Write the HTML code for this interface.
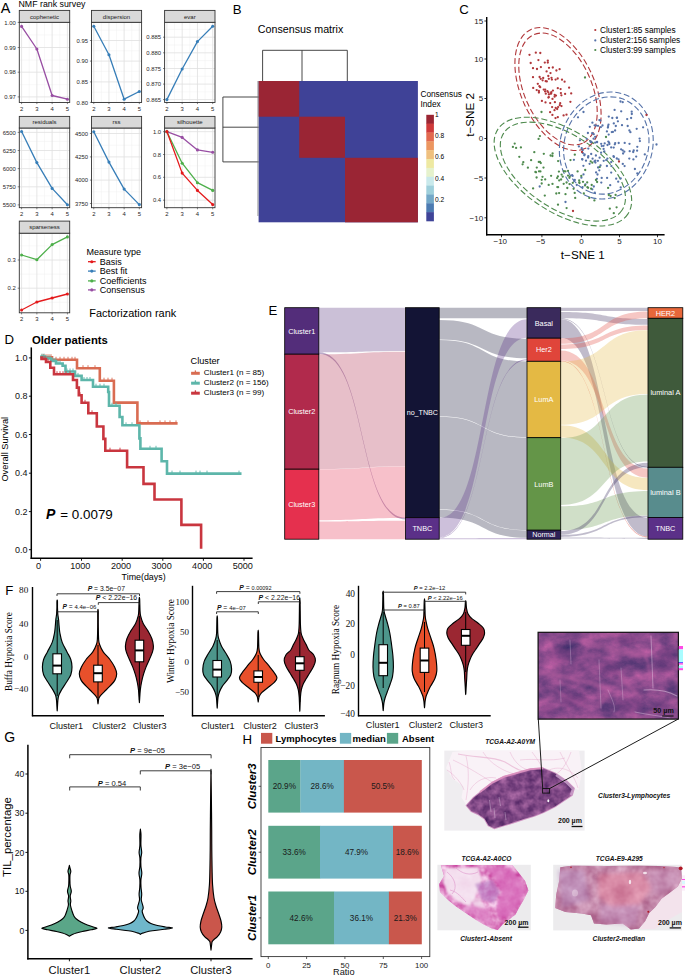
<!DOCTYPE html>
<html lang="en"><head><meta charset="utf-8"><title>Figure</title>
<style>
html,body{margin:0;padding:0;background:#fff;}
body{width:685px;height:976px;overflow:hidden;}
svg{display:block;font-family:"Liberation Sans",Arial,sans-serif;}
</style></head><body>
<svg width="685" height="976" viewBox="0 0 685 976">
<rect x="0" y="0" width="685" height="976" fill="#ffffff"/>
<g id="panelA">
<text x="0.80" y="12.78" font-size="14.4" fill="#000" >A</text>
<text x="18.50" y="7.07" font-size="8.8" fill="#000" >NMF rank survey</text>
<rect x="19.30" y="22.30" width="50.40" height="80.20" fill="#fff" stroke="none" stroke-width="1" />
<line x1="29.23" y1="22.30" x2="29.23" y2="102.50" stroke="#efefef" stroke-width="0.45" />
<line x1="44.50" y1="22.30" x2="44.50" y2="102.50" stroke="#efefef" stroke-width="0.45" />
<line x1="59.77" y1="22.30" x2="59.77" y2="102.50" stroke="#efefef" stroke-width="0.45" />
<line x1="19.30" y1="34.95" x2="69.70" y2="34.95" stroke="#efefef" stroke-width="0.45" />
<line x1="19.30" y1="60.05" x2="69.70" y2="60.05" stroke="#efefef" stroke-width="0.45" />
<line x1="19.30" y1="84.75" x2="69.70" y2="84.75" stroke="#efefef" stroke-width="0.45" />
<line x1="21.59" y1="22.30" x2="21.59" y2="102.50" stroke="#e0e0e0" stroke-width="0.8" />
<line x1="36.86" y1="22.30" x2="36.86" y2="102.50" stroke="#e0e0e0" stroke-width="0.8" />
<line x1="52.14" y1="22.30" x2="52.14" y2="102.50" stroke="#e0e0e0" stroke-width="0.8" />
<line x1="67.41" y1="22.30" x2="67.41" y2="102.50" stroke="#e0e0e0" stroke-width="0.8" />
<line x1="19.30" y1="22.40" x2="69.70" y2="22.40" stroke="#e0e0e0" stroke-width="0.8" />
<line x1="19.30" y1="47.50" x2="69.70" y2="47.50" stroke="#e0e0e0" stroke-width="0.8" />
<line x1="19.30" y1="72.20" x2="69.70" y2="72.20" stroke="#e0e0e0" stroke-width="0.8" />
<line x1="19.30" y1="96.90" x2="69.70" y2="96.90" stroke="#e0e0e0" stroke-width="0.8" />
<polyline points="21.59,26.40 36.86,49.00 52.14,95.50 67.41,99.20" fill="none" stroke="#984EA3" stroke-width="1.3" stroke-linejoin="round"/>
<circle cx="21.59" cy="26.40" r="1.55" fill="#984EA3"/>
<circle cx="36.86" cy="49.00" r="1.55" fill="#984EA3"/>
<circle cx="52.14" cy="95.50" r="1.55" fill="#984EA3"/>
<circle cx="67.41" cy="99.20" r="1.55" fill="#984EA3"/>
<rect x="19.30" y="22.30" width="50.40" height="80.20" fill="none" stroke="#333" stroke-width="0.9" />
<rect x="19.30" y="10.40" width="50.40" height="11.90" fill="#d9d9d9" stroke="#333" stroke-width="0.9" />
<text x="44.50" y="18.51" font-size="6.0" fill="#1a1a1a" text-anchor="middle" >cophenetic</text>
<line x1="17.70" y1="22.40" x2="19.30" y2="22.40" stroke="#333" stroke-width="0.6" />
<text x="15.80" y="24.52" font-size="5.9" fill="#262626" text-anchor="end" >1.00</text>
<line x1="17.70" y1="47.50" x2="19.30" y2="47.50" stroke="#333" stroke-width="0.6" />
<text x="15.80" y="49.62" font-size="5.9" fill="#262626" text-anchor="end" >0.99</text>
<line x1="17.70" y1="72.20" x2="19.30" y2="72.20" stroke="#333" stroke-width="0.6" />
<text x="15.80" y="74.32" font-size="5.9" fill="#262626" text-anchor="end" >0.98</text>
<line x1="17.70" y1="96.90" x2="19.30" y2="96.90" stroke="#333" stroke-width="0.6" />
<text x="15.80" y="99.02" font-size="5.9" fill="#262626" text-anchor="end" >0.97</text>
<line x1="21.59" y1="102.50" x2="21.59" y2="104.10" stroke="#333" stroke-width="0.6" />
<text x="21.59" y="110.82" font-size="5.9" fill="#262626" text-anchor="middle" >2</text>
<line x1="36.86" y1="102.50" x2="36.86" y2="104.10" stroke="#333" stroke-width="0.6" />
<text x="36.86" y="110.82" font-size="5.9" fill="#262626" text-anchor="middle" >3</text>
<line x1="52.14" y1="102.50" x2="52.14" y2="104.10" stroke="#333" stroke-width="0.6" />
<text x="52.14" y="110.82" font-size="5.9" fill="#262626" text-anchor="middle" >4</text>
<line x1="67.41" y1="102.50" x2="67.41" y2="104.10" stroke="#333" stroke-width="0.6" />
<text x="67.41" y="110.82" font-size="5.9" fill="#262626" text-anchor="middle" >5</text>
<rect x="91.50" y="22.30" width="50.10" height="80.20" fill="#fff" stroke="none" stroke-width="1" />
<line x1="101.37" y1="22.30" x2="101.37" y2="102.50" stroke="#efefef" stroke-width="0.45" />
<line x1="116.55" y1="22.30" x2="116.55" y2="102.50" stroke="#efefef" stroke-width="0.45" />
<line x1="131.73" y1="22.30" x2="131.73" y2="102.50" stroke="#efefef" stroke-width="0.45" />
<line x1="91.50" y1="50.80" x2="141.60" y2="50.80" stroke="#efefef" stroke-width="0.45" />
<line x1="91.50" y1="71.40" x2="141.60" y2="71.40" stroke="#efefef" stroke-width="0.45" />
<line x1="91.50" y1="92.20" x2="141.60" y2="92.20" stroke="#efefef" stroke-width="0.45" />
<line x1="91.50" y1="30.20" x2="141.60" y2="30.20" stroke="#efefef" stroke-width="0.45" />
<line x1="93.78" y1="22.30" x2="93.78" y2="102.50" stroke="#e0e0e0" stroke-width="0.8" />
<line x1="108.96" y1="22.30" x2="108.96" y2="102.50" stroke="#e0e0e0" stroke-width="0.8" />
<line x1="124.14" y1="22.30" x2="124.14" y2="102.50" stroke="#e0e0e0" stroke-width="0.8" />
<line x1="139.32" y1="22.30" x2="139.32" y2="102.50" stroke="#e0e0e0" stroke-width="0.8" />
<line x1="91.50" y1="40.50" x2="141.60" y2="40.50" stroke="#e0e0e0" stroke-width="0.8" />
<line x1="91.50" y1="61.10" x2="141.60" y2="61.10" stroke="#e0e0e0" stroke-width="0.8" />
<line x1="91.50" y1="81.90" x2="141.60" y2="81.90" stroke="#e0e0e0" stroke-width="0.8" />
<line x1="91.50" y1="102.40" x2="141.60" y2="102.40" stroke="#e0e0e0" stroke-width="0.8" />
<polyline points="93.78,26.30 108.96,54.70 124.14,99.20 139.32,91.50" fill="none" stroke="#377EB8" stroke-width="1.3" stroke-linejoin="round"/>
<circle cx="93.78" cy="26.30" r="1.55" fill="#377EB8"/>
<circle cx="108.96" cy="54.70" r="1.55" fill="#377EB8"/>
<circle cx="124.14" cy="99.20" r="1.55" fill="#377EB8"/>
<circle cx="139.32" cy="91.50" r="1.55" fill="#377EB8"/>
<rect x="91.50" y="22.30" width="50.10" height="80.20" fill="none" stroke="#333" stroke-width="0.9" />
<rect x="91.50" y="10.40" width="50.10" height="11.90" fill="#d9d9d9" stroke="#333" stroke-width="0.9" />
<text x="116.55" y="18.51" font-size="6.0" fill="#1a1a1a" text-anchor="middle" >dispersion</text>
<line x1="89.90" y1="40.50" x2="91.50" y2="40.50" stroke="#333" stroke-width="0.6" />
<text x="88.00" y="42.62" font-size="5.9" fill="#262626" text-anchor="end" >0.95</text>
<line x1="89.90" y1="61.10" x2="91.50" y2="61.10" stroke="#333" stroke-width="0.6" />
<text x="88.00" y="63.22" font-size="5.9" fill="#262626" text-anchor="end" >0.90</text>
<line x1="89.90" y1="81.90" x2="91.50" y2="81.90" stroke="#333" stroke-width="0.6" />
<text x="88.00" y="84.02" font-size="5.9" fill="#262626" text-anchor="end" >0.85</text>
<line x1="89.90" y1="102.40" x2="91.50" y2="102.40" stroke="#333" stroke-width="0.6" />
<text x="88.00" y="104.52" font-size="5.9" fill="#262626" text-anchor="end" >0.80</text>
<line x1="93.78" y1="102.50" x2="93.78" y2="104.10" stroke="#333" stroke-width="0.6" />
<text x="93.78" y="110.82" font-size="5.9" fill="#262626" text-anchor="middle" >2</text>
<line x1="108.96" y1="102.50" x2="108.96" y2="104.10" stroke="#333" stroke-width="0.6" />
<text x="108.96" y="110.82" font-size="5.9" fill="#262626" text-anchor="middle" >3</text>
<line x1="124.14" y1="102.50" x2="124.14" y2="104.10" stroke="#333" stroke-width="0.6" />
<text x="124.14" y="110.82" font-size="5.9" fill="#262626" text-anchor="middle" >4</text>
<line x1="139.32" y1="102.50" x2="139.32" y2="104.10" stroke="#333" stroke-width="0.6" />
<text x="139.32" y="110.82" font-size="5.9" fill="#262626" text-anchor="middle" >5</text>
<rect x="164.60" y="22.30" width="50.40" height="80.20" fill="#fff" stroke="none" stroke-width="1" />
<line x1="174.53" y1="22.30" x2="174.53" y2="102.50" stroke="#efefef" stroke-width="0.45" />
<line x1="189.80" y1="22.30" x2="189.80" y2="102.50" stroke="#efefef" stroke-width="0.45" />
<line x1="205.07" y1="22.30" x2="205.07" y2="102.50" stroke="#efefef" stroke-width="0.45" />
<line x1="164.60" y1="45.00" x2="215.00" y2="45.00" stroke="#efefef" stroke-width="0.45" />
<line x1="164.60" y1="60.60" x2="215.00" y2="60.60" stroke="#efefef" stroke-width="0.45" />
<line x1="164.60" y1="76.30" x2="215.00" y2="76.30" stroke="#efefef" stroke-width="0.45" />
<line x1="164.60" y1="91.90" x2="215.00" y2="91.90" stroke="#efefef" stroke-width="0.45" />
<line x1="164.60" y1="29.40" x2="215.00" y2="29.40" stroke="#efefef" stroke-width="0.45" />
<line x1="166.89" y1="22.30" x2="166.89" y2="102.50" stroke="#e0e0e0" stroke-width="0.8" />
<line x1="182.16" y1="22.30" x2="182.16" y2="102.50" stroke="#e0e0e0" stroke-width="0.8" />
<line x1="197.44" y1="22.30" x2="197.44" y2="102.50" stroke="#e0e0e0" stroke-width="0.8" />
<line x1="212.71" y1="22.30" x2="212.71" y2="102.50" stroke="#e0e0e0" stroke-width="0.8" />
<line x1="164.60" y1="37.20" x2="215.00" y2="37.20" stroke="#e0e0e0" stroke-width="0.8" />
<line x1="164.60" y1="52.80" x2="215.00" y2="52.80" stroke="#e0e0e0" stroke-width="0.8" />
<line x1="164.60" y1="68.50" x2="215.00" y2="68.50" stroke="#e0e0e0" stroke-width="0.8" />
<line x1="164.60" y1="84.10" x2="215.00" y2="84.10" stroke="#e0e0e0" stroke-width="0.8" />
<line x1="164.60" y1="99.60" x2="215.00" y2="99.60" stroke="#e0e0e0" stroke-width="0.8" />
<polyline points="166.89,99.60 182.16,69.00 197.44,41.60 212.71,26.30" fill="none" stroke="#377EB8" stroke-width="1.3" stroke-linejoin="round"/>
<circle cx="166.89" cy="99.60" r="1.55" fill="#377EB8"/>
<circle cx="182.16" cy="69.00" r="1.55" fill="#377EB8"/>
<circle cx="197.44" cy="41.60" r="1.55" fill="#377EB8"/>
<circle cx="212.71" cy="26.30" r="1.55" fill="#377EB8"/>
<rect x="164.60" y="22.30" width="50.40" height="80.20" fill="none" stroke="#333" stroke-width="0.9" />
<rect x="164.60" y="10.40" width="50.40" height="11.90" fill="#d9d9d9" stroke="#333" stroke-width="0.9" />
<text x="189.80" y="18.51" font-size="6.0" fill="#1a1a1a" text-anchor="middle" >evar</text>
<line x1="163.00" y1="37.20" x2="164.60" y2="37.20" stroke="#333" stroke-width="0.6" />
<text x="161.10" y="39.32" font-size="5.9" fill="#262626" text-anchor="end" >0.885</text>
<line x1="163.00" y1="52.80" x2="164.60" y2="52.80" stroke="#333" stroke-width="0.6" />
<text x="161.10" y="54.92" font-size="5.9" fill="#262626" text-anchor="end" >0.880</text>
<line x1="163.00" y1="68.50" x2="164.60" y2="68.50" stroke="#333" stroke-width="0.6" />
<text x="161.10" y="70.62" font-size="5.9" fill="#262626" text-anchor="end" >0.875</text>
<line x1="163.00" y1="84.10" x2="164.60" y2="84.10" stroke="#333" stroke-width="0.6" />
<text x="161.10" y="86.22" font-size="5.9" fill="#262626" text-anchor="end" >0.870</text>
<line x1="163.00" y1="99.60" x2="164.60" y2="99.60" stroke="#333" stroke-width="0.6" />
<text x="161.10" y="101.72" font-size="5.9" fill="#262626" text-anchor="end" >0.865</text>
<line x1="166.89" y1="102.50" x2="166.89" y2="104.10" stroke="#333" stroke-width="0.6" />
<text x="166.89" y="110.82" font-size="5.9" fill="#262626" text-anchor="middle" >2</text>
<line x1="182.16" y1="102.50" x2="182.16" y2="104.10" stroke="#333" stroke-width="0.6" />
<text x="182.16" y="110.82" font-size="5.9" fill="#262626" text-anchor="middle" >3</text>
<line x1="197.44" y1="102.50" x2="197.44" y2="104.10" stroke="#333" stroke-width="0.6" />
<text x="197.44" y="110.82" font-size="5.9" fill="#262626" text-anchor="middle" >4</text>
<line x1="212.71" y1="102.50" x2="212.71" y2="104.10" stroke="#333" stroke-width="0.6" />
<text x="212.71" y="110.82" font-size="5.9" fill="#262626" text-anchor="middle" >5</text>
<rect x="19.30" y="128.00" width="50.40" height="79.70" fill="#fff" stroke="none" stroke-width="1" />
<line x1="29.23" y1="128.00" x2="29.23" y2="207.70" stroke="#efefef" stroke-width="0.45" />
<line x1="44.50" y1="128.00" x2="44.50" y2="207.70" stroke="#efefef" stroke-width="0.45" />
<line x1="59.77" y1="128.00" x2="59.77" y2="207.70" stroke="#efefef" stroke-width="0.45" />
<line x1="19.30" y1="141.45" x2="69.70" y2="141.45" stroke="#efefef" stroke-width="0.45" />
<line x1="19.30" y1="159.55" x2="69.70" y2="159.55" stroke="#efefef" stroke-width="0.45" />
<line x1="19.30" y1="177.65" x2="69.70" y2="177.65" stroke="#efefef" stroke-width="0.45" />
<line x1="19.30" y1="195.85" x2="69.70" y2="195.85" stroke="#efefef" stroke-width="0.45" />
<line x1="21.59" y1="128.00" x2="21.59" y2="207.70" stroke="#e0e0e0" stroke-width="0.8" />
<line x1="36.86" y1="128.00" x2="36.86" y2="207.70" stroke="#e0e0e0" stroke-width="0.8" />
<line x1="52.14" y1="128.00" x2="52.14" y2="207.70" stroke="#e0e0e0" stroke-width="0.8" />
<line x1="67.41" y1="128.00" x2="67.41" y2="207.70" stroke="#e0e0e0" stroke-width="0.8" />
<line x1="19.30" y1="132.40" x2="69.70" y2="132.40" stroke="#e0e0e0" stroke-width="0.8" />
<line x1="19.30" y1="150.50" x2="69.70" y2="150.50" stroke="#e0e0e0" stroke-width="0.8" />
<line x1="19.30" y1="168.60" x2="69.70" y2="168.60" stroke="#e0e0e0" stroke-width="0.8" />
<line x1="19.30" y1="186.80" x2="69.70" y2="186.80" stroke="#e0e0e0" stroke-width="0.8" />
<line x1="19.30" y1="204.90" x2="69.70" y2="204.90" stroke="#e0e0e0" stroke-width="0.8" />
<polyline points="21.59,131.50 36.86,162.60 52.14,188.40 67.41,204.70" fill="none" stroke="#377EB8" stroke-width="1.3" stroke-linejoin="round"/>
<circle cx="21.59" cy="131.50" r="1.55" fill="#377EB8"/>
<circle cx="36.86" cy="162.60" r="1.55" fill="#377EB8"/>
<circle cx="52.14" cy="188.40" r="1.55" fill="#377EB8"/>
<circle cx="67.41" cy="204.70" r="1.55" fill="#377EB8"/>
<rect x="19.30" y="128.00" width="50.40" height="79.70" fill="none" stroke="#333" stroke-width="0.9" />
<rect x="19.30" y="116.40" width="50.40" height="11.60" fill="#d9d9d9" stroke="#333" stroke-width="0.9" />
<text x="44.50" y="124.36" font-size="6.0" fill="#1a1a1a" text-anchor="middle" >residuals</text>
<line x1="17.70" y1="132.40" x2="19.30" y2="132.40" stroke="#333" stroke-width="0.6" />
<text x="15.80" y="134.52" font-size="5.9" fill="#262626" text-anchor="end" >6500</text>
<line x1="17.70" y1="150.50" x2="19.30" y2="150.50" stroke="#333" stroke-width="0.6" />
<text x="15.80" y="152.62" font-size="5.9" fill="#262626" text-anchor="end" >6250</text>
<line x1="17.70" y1="168.60" x2="19.30" y2="168.60" stroke="#333" stroke-width="0.6" />
<text x="15.80" y="170.72" font-size="5.9" fill="#262626" text-anchor="end" >6000</text>
<line x1="17.70" y1="186.80" x2="19.30" y2="186.80" stroke="#333" stroke-width="0.6" />
<text x="15.80" y="188.92" font-size="5.9" fill="#262626" text-anchor="end" >5750</text>
<line x1="17.70" y1="204.90" x2="19.30" y2="204.90" stroke="#333" stroke-width="0.6" />
<text x="15.80" y="207.02" font-size="5.9" fill="#262626" text-anchor="end" >5500</text>
<line x1="21.59" y1="207.70" x2="21.59" y2="209.30" stroke="#333" stroke-width="0.6" />
<text x="21.59" y="216.02" font-size="5.9" fill="#262626" text-anchor="middle" >2</text>
<line x1="36.86" y1="207.70" x2="36.86" y2="209.30" stroke="#333" stroke-width="0.6" />
<text x="36.86" y="216.02" font-size="5.9" fill="#262626" text-anchor="middle" >3</text>
<line x1="52.14" y1="207.70" x2="52.14" y2="209.30" stroke="#333" stroke-width="0.6" />
<text x="52.14" y="216.02" font-size="5.9" fill="#262626" text-anchor="middle" >4</text>
<line x1="67.41" y1="207.70" x2="67.41" y2="209.30" stroke="#333" stroke-width="0.6" />
<text x="67.41" y="216.02" font-size="5.9" fill="#262626" text-anchor="middle" >5</text>
<rect x="91.50" y="128.00" width="50.10" height="79.70" fill="#fff" stroke="none" stroke-width="1" />
<line x1="101.37" y1="128.00" x2="101.37" y2="207.70" stroke="#efefef" stroke-width="0.45" />
<line x1="116.55" y1="128.00" x2="116.55" y2="207.70" stroke="#efefef" stroke-width="0.45" />
<line x1="131.73" y1="128.00" x2="131.73" y2="207.70" stroke="#efefef" stroke-width="0.45" />
<line x1="91.50" y1="145.20" x2="141.60" y2="145.20" stroke="#efefef" stroke-width="0.45" />
<line x1="91.50" y1="168.60" x2="141.60" y2="168.60" stroke="#efefef" stroke-width="0.45" />
<line x1="91.50" y1="191.80" x2="141.60" y2="191.80" stroke="#efefef" stroke-width="0.45" />
<line x1="93.78" y1="128.00" x2="93.78" y2="207.70" stroke="#e0e0e0" stroke-width="0.8" />
<line x1="108.96" y1="128.00" x2="108.96" y2="207.70" stroke="#e0e0e0" stroke-width="0.8" />
<line x1="124.14" y1="128.00" x2="124.14" y2="207.70" stroke="#e0e0e0" stroke-width="0.8" />
<line x1="139.32" y1="128.00" x2="139.32" y2="207.70" stroke="#e0e0e0" stroke-width="0.8" />
<line x1="91.50" y1="133.50" x2="141.60" y2="133.50" stroke="#e0e0e0" stroke-width="0.8" />
<line x1="91.50" y1="156.90" x2="141.60" y2="156.90" stroke="#e0e0e0" stroke-width="0.8" />
<line x1="91.50" y1="180.10" x2="141.60" y2="180.10" stroke="#e0e0e0" stroke-width="0.8" />
<line x1="91.50" y1="203.50" x2="141.60" y2="203.50" stroke="#e0e0e0" stroke-width="0.8" />
<polyline points="93.78,131.70 108.96,162.10 124.14,189.10 139.32,204.60" fill="none" stroke="#377EB8" stroke-width="1.3" stroke-linejoin="round"/>
<circle cx="93.78" cy="131.70" r="1.55" fill="#377EB8"/>
<circle cx="108.96" cy="162.10" r="1.55" fill="#377EB8"/>
<circle cx="124.14" cy="189.10" r="1.55" fill="#377EB8"/>
<circle cx="139.32" cy="204.60" r="1.55" fill="#377EB8"/>
<rect x="91.50" y="128.00" width="50.10" height="79.70" fill="none" stroke="#333" stroke-width="0.9" />
<rect x="91.50" y="116.40" width="50.10" height="11.60" fill="#d9d9d9" stroke="#333" stroke-width="0.9" />
<text x="116.55" y="124.36" font-size="6.0" fill="#1a1a1a" text-anchor="middle" >rss</text>
<line x1="89.90" y1="133.50" x2="91.50" y2="133.50" stroke="#333" stroke-width="0.6" />
<text x="88.00" y="135.62" font-size="5.9" fill="#262626" text-anchor="end" >4500</text>
<line x1="89.90" y1="156.90" x2="91.50" y2="156.90" stroke="#333" stroke-width="0.6" />
<text x="88.00" y="159.02" font-size="5.9" fill="#262626" text-anchor="end" >4250</text>
<line x1="89.90" y1="180.10" x2="91.50" y2="180.10" stroke="#333" stroke-width="0.6" />
<text x="88.00" y="182.22" font-size="5.9" fill="#262626" text-anchor="end" >4000</text>
<line x1="89.90" y1="203.50" x2="91.50" y2="203.50" stroke="#333" stroke-width="0.6" />
<text x="88.00" y="205.62" font-size="5.9" fill="#262626" text-anchor="end" >3750</text>
<line x1="93.78" y1="207.70" x2="93.78" y2="209.30" stroke="#333" stroke-width="0.6" />
<text x="93.78" y="216.02" font-size="5.9" fill="#262626" text-anchor="middle" >2</text>
<line x1="108.96" y1="207.70" x2="108.96" y2="209.30" stroke="#333" stroke-width="0.6" />
<text x="108.96" y="216.02" font-size="5.9" fill="#262626" text-anchor="middle" >3</text>
<line x1="124.14" y1="207.70" x2="124.14" y2="209.30" stroke="#333" stroke-width="0.6" />
<text x="124.14" y="216.02" font-size="5.9" fill="#262626" text-anchor="middle" >4</text>
<line x1="139.32" y1="207.70" x2="139.32" y2="209.30" stroke="#333" stroke-width="0.6" />
<text x="139.32" y="216.02" font-size="5.9" fill="#262626" text-anchor="middle" >5</text>
<rect x="164.60" y="128.00" width="50.40" height="79.70" fill="#fff" stroke="none" stroke-width="1" />
<line x1="174.53" y1="128.00" x2="174.53" y2="207.70" stroke="#efefef" stroke-width="0.45" />
<line x1="189.80" y1="128.00" x2="189.80" y2="207.70" stroke="#efefef" stroke-width="0.45" />
<line x1="205.07" y1="128.00" x2="205.07" y2="207.70" stroke="#efefef" stroke-width="0.45" />
<line x1="164.60" y1="143.10" x2="215.00" y2="143.10" stroke="#efefef" stroke-width="0.45" />
<line x1="164.60" y1="165.90" x2="215.00" y2="165.90" stroke="#efefef" stroke-width="0.45" />
<line x1="164.60" y1="188.70" x2="215.00" y2="188.70" stroke="#efefef" stroke-width="0.45" />
<line x1="166.89" y1="128.00" x2="166.89" y2="207.70" stroke="#e0e0e0" stroke-width="0.8" />
<line x1="182.16" y1="128.00" x2="182.16" y2="207.70" stroke="#e0e0e0" stroke-width="0.8" />
<line x1="197.44" y1="128.00" x2="197.44" y2="207.70" stroke="#e0e0e0" stroke-width="0.8" />
<line x1="212.71" y1="128.00" x2="212.71" y2="207.70" stroke="#e0e0e0" stroke-width="0.8" />
<line x1="164.60" y1="131.70" x2="215.00" y2="131.70" stroke="#e0e0e0" stroke-width="0.8" />
<line x1="164.60" y1="154.50" x2="215.00" y2="154.50" stroke="#e0e0e0" stroke-width="0.8" />
<line x1="164.60" y1="177.30" x2="215.00" y2="177.30" stroke="#e0e0e0" stroke-width="0.8" />
<line x1="164.60" y1="200.20" x2="215.00" y2="200.20" stroke="#e0e0e0" stroke-width="0.8" />
<polyline points="166.89,131.70 182.16,137.40 197.44,149.90 212.71,152.30" fill="none" stroke="#984EA3" stroke-width="1.3" stroke-linejoin="round"/>
<circle cx="166.89" cy="131.70" r="1.55" fill="#984EA3"/>
<circle cx="182.16" cy="137.40" r="1.55" fill="#984EA3"/>
<circle cx="197.44" cy="149.90" r="1.55" fill="#984EA3"/>
<circle cx="212.71" cy="152.30" r="1.55" fill="#984EA3"/>
<polyline points="166.89,131.70 182.16,163.20 197.44,182.70 212.71,190.40" fill="none" stroke="#4DAF4A" stroke-width="1.3" stroke-linejoin="round"/>
<circle cx="166.89" cy="131.70" r="1.55" fill="#4DAF4A"/>
<circle cx="182.16" cy="163.20" r="1.55" fill="#4DAF4A"/>
<circle cx="197.44" cy="182.70" r="1.55" fill="#4DAF4A"/>
<circle cx="212.71" cy="190.40" r="1.55" fill="#4DAF4A"/>
<polyline points="166.89,131.50 182.16,173.10 197.44,190.40 212.71,204.60" fill="none" stroke="#E41A1C" stroke-width="1.3" stroke-linejoin="round"/>
<circle cx="166.89" cy="131.50" r="1.55" fill="#E41A1C"/>
<circle cx="182.16" cy="173.10" r="1.55" fill="#E41A1C"/>
<circle cx="197.44" cy="190.40" r="1.55" fill="#E41A1C"/>
<circle cx="212.71" cy="204.60" r="1.55" fill="#E41A1C"/>
<rect x="164.60" y="128.00" width="50.40" height="79.70" fill="none" stroke="#333" stroke-width="0.9" />
<rect x="164.60" y="116.40" width="50.40" height="11.60" fill="#d9d9d9" stroke="#333" stroke-width="0.9" />
<text x="189.80" y="124.36" font-size="6.0" fill="#1a1a1a" text-anchor="middle" >silhouette</text>
<line x1="163.00" y1="131.70" x2="164.60" y2="131.70" stroke="#333" stroke-width="0.6" />
<text x="161.10" y="133.82" font-size="5.9" fill="#262626" text-anchor="end" >1.0</text>
<line x1="163.00" y1="154.50" x2="164.60" y2="154.50" stroke="#333" stroke-width="0.6" />
<text x="161.10" y="156.62" font-size="5.9" fill="#262626" text-anchor="end" >0.8</text>
<line x1="163.00" y1="177.30" x2="164.60" y2="177.30" stroke="#333" stroke-width="0.6" />
<text x="161.10" y="179.42" font-size="5.9" fill="#262626" text-anchor="end" >0.6</text>
<line x1="163.00" y1="200.20" x2="164.60" y2="200.20" stroke="#333" stroke-width="0.6" />
<text x="161.10" y="202.32" font-size="5.9" fill="#262626" text-anchor="end" >0.4</text>
<line x1="166.89" y1="207.70" x2="166.89" y2="209.30" stroke="#333" stroke-width="0.6" />
<text x="166.89" y="216.02" font-size="5.9" fill="#262626" text-anchor="middle" >2</text>
<line x1="182.16" y1="207.70" x2="182.16" y2="209.30" stroke="#333" stroke-width="0.6" />
<text x="182.16" y="216.02" font-size="5.9" fill="#262626" text-anchor="middle" >3</text>
<line x1="197.44" y1="207.70" x2="197.44" y2="209.30" stroke="#333" stroke-width="0.6" />
<text x="197.44" y="216.02" font-size="5.9" fill="#262626" text-anchor="middle" >4</text>
<line x1="212.71" y1="207.70" x2="212.71" y2="209.30" stroke="#333" stroke-width="0.6" />
<text x="212.71" y="216.02" font-size="5.9" fill="#262626" text-anchor="middle" >5</text>
<rect x="19.30" y="233.20" width="50.40" height="79.60" fill="#fff" stroke="none" stroke-width="1" />
<line x1="29.23" y1="233.20" x2="29.23" y2="312.80" stroke="#efefef" stroke-width="0.45" />
<line x1="44.50" y1="233.20" x2="44.50" y2="312.80" stroke="#efefef" stroke-width="0.45" />
<line x1="59.77" y1="233.20" x2="59.77" y2="312.80" stroke="#efefef" stroke-width="0.45" />
<line x1="19.30" y1="274.10" x2="69.70" y2="274.10" stroke="#efefef" stroke-width="0.45" />
<line x1="19.30" y1="302.30" x2="69.70" y2="302.30" stroke="#efefef" stroke-width="0.45" />
<line x1="19.30" y1="245.90" x2="69.70" y2="245.90" stroke="#efefef" stroke-width="0.45" />
<line x1="21.59" y1="233.20" x2="21.59" y2="312.80" stroke="#e0e0e0" stroke-width="0.8" />
<line x1="36.86" y1="233.20" x2="36.86" y2="312.80" stroke="#e0e0e0" stroke-width="0.8" />
<line x1="52.14" y1="233.20" x2="52.14" y2="312.80" stroke="#e0e0e0" stroke-width="0.8" />
<line x1="67.41" y1="233.20" x2="67.41" y2="312.80" stroke="#e0e0e0" stroke-width="0.8" />
<line x1="19.30" y1="260.00" x2="69.70" y2="260.00" stroke="#e0e0e0" stroke-width="0.8" />
<line x1="19.30" y1="288.20" x2="69.70" y2="288.20" stroke="#e0e0e0" stroke-width="0.8" />
<polyline points="21.59,255.00 36.86,259.70 52.14,244.60 67.41,236.90" fill="none" stroke="#4DAF4A" stroke-width="1.3" stroke-linejoin="round"/>
<circle cx="21.59" cy="255.00" r="1.55" fill="#4DAF4A"/>
<circle cx="36.86" cy="259.70" r="1.55" fill="#4DAF4A"/>
<circle cx="52.14" cy="244.60" r="1.55" fill="#4DAF4A"/>
<circle cx="67.41" cy="236.90" r="1.55" fill="#4DAF4A"/>
<polyline points="21.59,310.00 36.86,302.00 52.14,298.00 67.41,294.00" fill="none" stroke="#E41A1C" stroke-width="1.3" stroke-linejoin="round"/>
<circle cx="21.59" cy="310.00" r="1.55" fill="#E41A1C"/>
<circle cx="36.86" cy="302.00" r="1.55" fill="#E41A1C"/>
<circle cx="52.14" cy="298.00" r="1.55" fill="#E41A1C"/>
<circle cx="67.41" cy="294.00" r="1.55" fill="#E41A1C"/>
<rect x="19.30" y="233.20" width="50.40" height="79.60" fill="none" stroke="#333" stroke-width="0.9" />
<rect x="19.30" y="221.10" width="50.40" height="12.10" fill="#d9d9d9" stroke="#333" stroke-width="0.9" />
<text x="44.50" y="229.31" font-size="6.0" fill="#1a1a1a" text-anchor="middle" >sparseness</text>
<line x1="17.70" y1="260.00" x2="19.30" y2="260.00" stroke="#333" stroke-width="0.6" />
<text x="15.80" y="262.12" font-size="5.9" fill="#262626" text-anchor="end" >0.3</text>
<line x1="17.70" y1="288.20" x2="19.30" y2="288.20" stroke="#333" stroke-width="0.6" />
<text x="15.80" y="290.32" font-size="5.9" fill="#262626" text-anchor="end" >0.2</text>
<line x1="21.59" y1="312.80" x2="21.59" y2="314.40" stroke="#333" stroke-width="0.6" />
<text x="21.59" y="321.12" font-size="5.9" fill="#262626" text-anchor="middle" >2</text>
<line x1="36.86" y1="312.80" x2="36.86" y2="314.40" stroke="#333" stroke-width="0.6" />
<text x="36.86" y="321.12" font-size="5.9" fill="#262626" text-anchor="middle" >3</text>
<line x1="52.14" y1="312.80" x2="52.14" y2="314.40" stroke="#333" stroke-width="0.6" />
<text x="52.14" y="321.12" font-size="5.9" fill="#262626" text-anchor="middle" >4</text>
<line x1="67.41" y1="312.80" x2="67.41" y2="314.40" stroke="#333" stroke-width="0.6" />
<text x="67.41" y="321.12" font-size="5.9" fill="#262626" text-anchor="middle" >5</text>
<text x="86.60" y="254.54" font-size="9.0" fill="#000" >Measure type</text>
<line x1="88.00" y1="261.70" x2="95.70" y2="261.70" stroke="#E41A1C" stroke-width="1.3" />
<circle cx="91.8" cy="261.7" r="1.55" fill="#E41A1C"/>
<text x="99.70" y="264.94" font-size="9.0" fill="#000" >Basis</text>
<line x1="88.00" y1="271.10" x2="95.70" y2="271.10" stroke="#377EB8" stroke-width="1.3" />
<circle cx="91.8" cy="271.1" r="1.55" fill="#377EB8"/>
<text x="99.70" y="274.34" font-size="9.0" fill="#000" >Best fit</text>
<line x1="88.00" y1="280.90" x2="95.70" y2="280.90" stroke="#4DAF4A" stroke-width="1.3" />
<circle cx="91.8" cy="280.9" r="1.55" fill="#4DAF4A"/>
<text x="99.70" y="284.14" font-size="9.0" fill="#000" >Coefficients</text>
<line x1="88.00" y1="289.90" x2="95.70" y2="289.90" stroke="#984EA3" stroke-width="1.3" />
<circle cx="91.8" cy="289.9" r="1.55" fill="#984EA3"/>
<text x="99.70" y="293.14" font-size="9.0" fill="#000" >Consensus</text>
<text x="89.30" y="316.54" font-size="10.95" fill="#000" >Factorization rank</text>
</g>
<g id="panelB">
<text x="232.80" y="14.15" font-size="13.2" fill="#000" >B</text>
<text x="257.80" y="32.75" font-size="10.7" fill="#000" >Consensus matrix</text>
<rect x="258.60" y="81.00" width="159.30" height="141.30" fill="#3f4297" stroke="none" stroke-width="1" />
<rect x="258.60" y="81.00" width="40.60" height="35.70" fill="#9a2534" stroke="none" stroke-width="1" />
<rect x="299.20" y="116.70" width="45.80" height="41.10" fill="#9a2534" stroke="none" stroke-width="1" />
<rect x="345.00" y="157.80" width="72.90" height="64.50" fill="#9a2534" stroke="none" stroke-width="1" />
<polyline points="262.60,81.00 262.60,50.30 347.30,50.30 347.30,81.00" fill="none" stroke="#333" stroke-width="0.9" />
<line x1="302.00" y1="50.30" x2="302.00" y2="81.00" stroke="#333" stroke-width="0.9" />
<polyline points="258.60,97.00 222.90,97.00 222.90,161.90 258.60,161.90" fill="none" stroke="#333" stroke-width="0.9" />
<line x1="222.90" y1="127.20" x2="258.60" y2="127.20" stroke="#333" stroke-width="0.9" />
<line x1="257.90" y1="81.00" x2="257.90" y2="216.00" stroke="#777" stroke-width="0.7" />
<text x="420.40" y="97.29" font-size="8.3" fill="#000" >Consensus</text>
<text x="420.40" y="106.59" font-size="8.3" fill="#000" >Index</text>
<rect x="426.30" y="114.80" width="7.60" height="9.15" fill="#9b2633" stroke="none" stroke-width="1" />
<rect x="426.30" y="123.65" width="7.60" height="9.15" fill="#cf3a3a" stroke="none" stroke-width="1" />
<rect x="426.30" y="132.50" width="7.60" height="9.15" fill="#e2694f" stroke="none" stroke-width="1" />
<rect x="426.30" y="141.35" width="7.60" height="9.15" fill="#ec9660" stroke="none" stroke-width="1" />
<rect x="426.30" y="150.20" width="7.60" height="9.15" fill="#efc07e" stroke="none" stroke-width="1" />
<rect x="426.30" y="159.05" width="7.60" height="9.15" fill="#eee9a2" stroke="none" stroke-width="1" />
<rect x="426.30" y="167.90" width="7.60" height="9.15" fill="#e6f2cd" stroke="none" stroke-width="1" />
<rect x="426.30" y="176.75" width="7.60" height="9.15" fill="#c9e9eb" stroke="none" stroke-width="1" />
<rect x="426.30" y="185.60" width="7.60" height="9.15" fill="#9ecfdb" stroke="none" stroke-width="1" />
<rect x="426.30" y="194.45" width="7.60" height="9.15" fill="#73a8c8" stroke="none" stroke-width="1" />
<rect x="426.30" y="203.30" width="7.60" height="9.15" fill="#4c7bb2" stroke="none" stroke-width="1" />
<rect x="426.30" y="212.15" width="7.60" height="9.15" fill="#3f4498" stroke="none" stroke-width="1" />
<text x="435.00" y="117.28" font-size="6.6" fill="#000" >1</text>
<text x="435.00" y="138.28" font-size="6.6" fill="#000" >0.8</text>
<text x="435.00" y="159.28" font-size="6.6" fill="#000" >0.6</text>
<text x="435.00" y="180.58" font-size="6.6" fill="#000" >0.4</text>
<text x="435.00" y="201.88" font-size="6.6" fill="#000" >0.2</text>
</g>
<g id="panelC">
<text x="459.20" y="14.15" font-size="13.2" fill="#000" >C</text>
<line x1="486.70" y1="17.00" x2="486.70" y2="235.40" stroke="#000" stroke-width="1.45" />
<line x1="486.00" y1="234.80" x2="664.60" y2="234.80" stroke="#000" stroke-width="1.45" />
<line x1="484.40" y1="21.00" x2="486.70" y2="21.00" stroke="#000" stroke-width="0.8" />
<text x="483.20" y="23.88" font-size="8.0" fill="#222" text-anchor="end" >15</text>
<line x1="484.40" y1="59.00" x2="486.70" y2="59.00" stroke="#000" stroke-width="0.8" />
<text x="483.20" y="61.88" font-size="8.0" fill="#222" text-anchor="end" >10</text>
<line x1="484.40" y1="98.50" x2="486.70" y2="98.50" stroke="#000" stroke-width="0.8" />
<text x="483.20" y="101.38" font-size="8.0" fill="#222" text-anchor="end" >5</text>
<line x1="484.40" y1="138.50" x2="486.70" y2="138.50" stroke="#000" stroke-width="0.8" />
<text x="483.20" y="141.38" font-size="8.0" fill="#222" text-anchor="end" >0</text>
<line x1="484.40" y1="178.00" x2="486.70" y2="178.00" stroke="#000" stroke-width="0.8" />
<text x="483.20" y="180.88" font-size="8.0" fill="#222" text-anchor="end" >−5</text>
<line x1="484.40" y1="217.80" x2="486.70" y2="217.80" stroke="#000" stroke-width="0.8" />
<text x="483.20" y="220.68" font-size="8.0" fill="#222" text-anchor="end" >−10</text>
<line x1="501.50" y1="234.80" x2="501.50" y2="237.20" stroke="#000" stroke-width="0.8" />
<text x="500.30" y="244.08" font-size="8.0" fill="#222" text-anchor="middle" >−10</text>
<line x1="541.90" y1="234.80" x2="541.90" y2="237.20" stroke="#000" stroke-width="0.8" />
<text x="540.70" y="244.08" font-size="8.0" fill="#222" text-anchor="middle" >−5</text>
<line x1="581.40" y1="234.80" x2="581.40" y2="237.20" stroke="#000" stroke-width="0.8" />
<text x="581.40" y="244.08" font-size="8.0" fill="#222" text-anchor="middle" >0</text>
<line x1="619.50" y1="234.80" x2="619.50" y2="237.20" stroke="#000" stroke-width="0.8" />
<text x="619.50" y="244.08" font-size="8.0" fill="#222" text-anchor="middle" >5</text>
<line x1="657.50" y1="234.80" x2="657.50" y2="237.20" stroke="#000" stroke-width="0.8" />
<text x="657.50" y="244.08" font-size="8.0" fill="#222" text-anchor="middle" >10</text>
<text x="582.80" y="259.41" font-size="11.7" fill="#000" text-anchor="middle" >t−SNE 1</text>
<text x="0" y="4.21" font-size="11.7" fill="#000" transform="translate(469.60,114.90) rotate(-90)" text-anchor="middle" >t−SNE 2</text>
<ellipse cx="0" cy="0" rx="65.40" ry="36.90" transform="translate(558.0,89.0) rotate(65.65)" fill="none" stroke="#b1373a" stroke-width="1.1" stroke-dasharray="6 2.8"/>
<ellipse cx="0" cy="0" rx="59.51" ry="33.58" transform="translate(558.0,89.0) rotate(65.65)" fill="none" stroke="#b1373a" stroke-width="1.1" stroke-dasharray="6 2.8"/>
<ellipse cx="0" cy="0" rx="54.20" ry="46.10" transform="translate(606.3,145.5) rotate(108)" fill="none" stroke="#5673a9" stroke-width="1.1" stroke-dasharray="6 2.8"/>
<ellipse cx="0" cy="0" rx="49.32" ry="41.95" transform="translate(606.3,145.5) rotate(108)" fill="none" stroke="#5673a9" stroke-width="1.1" stroke-dasharray="6 2.8"/>
<ellipse cx="0" cy="0" rx="77.60" ry="40.80" transform="translate(562.9,171.6) rotate(33)" fill="none" stroke="#4e8a4d" stroke-width="1.1" stroke-dasharray="6 2.8"/>
<ellipse cx="0" cy="0" rx="70.62" ry="37.13" transform="translate(562.9,171.6) rotate(33)" fill="none" stroke="#4e8a4d" stroke-width="1.1" stroke-dasharray="6 2.8"/>
<g fill="#b1373a"><circle cx="542.6" cy="80.3" r="1.15"/><circle cx="551.5" cy="77.8" r="1.15"/><circle cx="544.8" cy="62.6" r="1.15"/><circle cx="554.5" cy="110.2" r="1.15"/><circle cx="555.7" cy="107.9" r="1.15"/><circle cx="551.2" cy="93.4" r="1.15"/><circle cx="548.8" cy="97.1" r="1.15"/><circle cx="547.8" cy="62.5" r="1.15"/><circle cx="552.9" cy="90.6" r="1.15"/><circle cx="560.9" cy="93.1" r="1.15"/><circle cx="548.3" cy="92.3" r="1.15"/><circle cx="541.9" cy="100.9" r="1.15"/><circle cx="552.8" cy="67.5" r="1.15"/><circle cx="548.3" cy="76.0" r="1.15"/><circle cx="552.5" cy="98.9" r="1.15"/><circle cx="556.4" cy="70.5" r="1.15"/><circle cx="533.0" cy="77.2" r="1.15"/><circle cx="540.9" cy="67.1" r="1.15"/><circle cx="569.1" cy="87.7" r="1.15"/><circle cx="536.7" cy="90.1" r="1.15"/><circle cx="557.7" cy="78.5" r="1.15"/><circle cx="554.7" cy="94.8" r="1.15"/><circle cx="529.5" cy="54.8" r="1.15"/><circle cx="545.5" cy="102.4" r="1.15"/><circle cx="557.8" cy="117.2" r="1.15"/><circle cx="564.6" cy="81.7" r="1.15"/><circle cx="561.4" cy="95.3" r="1.15"/><circle cx="559.6" cy="69.2" r="1.15"/><circle cx="547.8" cy="60.6" r="1.15"/><circle cx="535.8" cy="52.7" r="1.15"/><circle cx="555.5" cy="118.1" r="1.15"/><circle cx="560.6" cy="89.1" r="1.15"/><circle cx="530.7" cy="63.0" r="1.15"/><circle cx="557.2" cy="109.0" r="1.15"/><circle cx="547.4" cy="91.1" r="1.15"/><circle cx="548.4" cy="97.6" r="1.15"/><circle cx="552.1" cy="107.1" r="1.15"/><circle cx="537.8" cy="83.8" r="1.15"/><circle cx="556.0" cy="95.6" r="1.15"/><circle cx="545.8" cy="93.7" r="1.15"/><circle cx="538.9" cy="91.0" r="1.15"/><circle cx="549.0" cy="67.8" r="1.15"/><circle cx="558.1" cy="107.1" r="1.15"/><circle cx="533.0" cy="68.2" r="1.15"/><circle cx="566.5" cy="114.7" r="1.15"/><circle cx="540.3" cy="53.0" r="1.15"/><circle cx="551.9" cy="79.6" r="1.15"/><circle cx="537.0" cy="69.0" r="1.15"/><circle cx="550.1" cy="112.2" r="1.15"/><circle cx="551.3" cy="92.2" r="1.15"/><circle cx="545.2" cy="89.6" r="1.15"/><circle cx="545.7" cy="81.2" r="1.15"/><circle cx="554.6" cy="96.7" r="1.15"/><circle cx="550.2" cy="103.1" r="1.15"/><circle cx="550.5" cy="73.1" r="1.15"/><circle cx="540.2" cy="87.2" r="1.15"/><circle cx="543.2" cy="78.0" r="1.15"/><circle cx="538.4" cy="60.1" r="1.15"/><circle cx="550.7" cy="93.7" r="1.15"/><circle cx="539.6" cy="77.0" r="1.15"/><circle cx="557.8" cy="88.2" r="1.15"/><circle cx="546.6" cy="71.4" r="1.15"/><circle cx="548.8" cy="78.8" r="1.15"/><circle cx="570.4" cy="101.8" r="1.15"/><circle cx="539.4" cy="86.2" r="1.15"/><circle cx="540.7" cy="78.8" r="1.15"/><circle cx="571.2" cy="93.4" r="1.15"/><circle cx="538.9" cy="92.5" r="1.15"/><circle cx="546.8" cy="81.4" r="1.15"/><circle cx="554.9" cy="102.2" r="1.15"/><circle cx="533.2" cy="87.9" r="1.15"/><circle cx="561.5" cy="106.1" r="1.15"/><circle cx="560.2" cy="103.2" r="1.15"/><circle cx="543.7" cy="89.6" r="1.15"/><circle cx="545.1" cy="91.4" r="1.15"/><circle cx="565.1" cy="93.9" r="1.15"/><circle cx="552.4" cy="114.9" r="1.15"/><circle cx="562.0" cy="79.7" r="1.15"/><circle cx="559.8" cy="105.2" r="1.15"/><circle cx="555.6" cy="79.6" r="1.15"/><circle cx="548.9" cy="94.4" r="1.15"/><circle cx="563.6" cy="115.4" r="1.15"/></g>
<g fill="#5673a9"><circle cx="592.4" cy="122.7" r="1.15"/><circle cx="603.6" cy="148.9" r="1.15"/><circle cx="601.3" cy="182.6" r="1.15"/><circle cx="616.8" cy="158.5" r="1.15"/><circle cx="590.4" cy="141.4" r="1.15"/><circle cx="579.9" cy="140.3" r="1.15"/><circle cx="586.7" cy="138.8" r="1.15"/><circle cx="594.6" cy="125.3" r="1.15"/><circle cx="616.8" cy="117.8" r="1.15"/><circle cx="609.1" cy="142.6" r="1.15"/><circle cx="606.9" cy="131.4" r="1.15"/><circle cx="592.3" cy="189.3" r="1.15"/><circle cx="582.9" cy="153.1" r="1.15"/><circle cx="633.7" cy="150.5" r="1.15"/><circle cx="589.8" cy="126.8" r="1.15"/><circle cx="631.7" cy="111.7" r="1.15"/><circle cx="583.4" cy="165.8" r="1.15"/><circle cx="590.9" cy="142.0" r="1.15"/><circle cx="629.3" cy="158.6" r="1.15"/><circle cx="631.8" cy="114.0" r="1.15"/><circle cx="611.2" cy="172.6" r="1.15"/><circle cx="629.4" cy="130.5" r="1.15"/><circle cx="621.2" cy="111.3" r="1.15"/><circle cx="608.8" cy="116.6" r="1.15"/><circle cx="606.9" cy="166.0" r="1.15"/><circle cx="613.9" cy="156.9" r="1.15"/><circle cx="586.0" cy="160.7" r="1.15"/><circle cx="595.3" cy="160.7" r="1.15"/><circle cx="583.5" cy="174.4" r="1.15"/><circle cx="573.9" cy="159.8" r="1.15"/><circle cx="618.7" cy="143.0" r="1.15"/><circle cx="600.4" cy="120.5" r="1.15"/><circle cx="594.8" cy="192.6" r="1.15"/><circle cx="584.6" cy="154.5" r="1.15"/><circle cx="615.8" cy="126.0" r="1.15"/><circle cx="588.3" cy="148.6" r="1.15"/><circle cx="611.2" cy="147.4" r="1.15"/><circle cx="622.0" cy="125.2" r="1.15"/><circle cx="598.1" cy="167.5" r="1.15"/><circle cx="630.4" cy="132.2" r="1.15"/><circle cx="592.6" cy="158.7" r="1.15"/><circle cx="585.4" cy="184.3" r="1.15"/><circle cx="597.1" cy="142.0" r="1.15"/><circle cx="618.5" cy="159.3" r="1.15"/><circle cx="631.1" cy="118.0" r="1.15"/><circle cx="601.1" cy="152.7" r="1.15"/><circle cx="629.5" cy="143.8" r="1.15"/><circle cx="643.1" cy="127.3" r="1.15"/><circle cx="574.1" cy="181.1" r="1.15"/><circle cx="576.8" cy="185.0" r="1.15"/><circle cx="608.5" cy="124.6" r="1.15"/><circle cx="597.0" cy="142.2" r="1.15"/><circle cx="615.1" cy="130.5" r="1.15"/><circle cx="595.9" cy="155.5" r="1.15"/><circle cx="597.9" cy="160.8" r="1.15"/><circle cx="593.7" cy="134.2" r="1.15"/><circle cx="623.1" cy="153.5" r="1.15"/><circle cx="611.8" cy="132.1" r="1.15"/><circle cx="604.7" cy="143.4" r="1.15"/><circle cx="603.5" cy="145.8" r="1.15"/><circle cx="633.2" cy="152.0" r="1.15"/><circle cx="582.7" cy="150.2" r="1.15"/><circle cx="607.4" cy="158.6" r="1.15"/><circle cx="622.8" cy="163.9" r="1.15"/><circle cx="620.5" cy="101.5" r="1.15"/><circle cx="599.4" cy="120.1" r="1.15"/><circle cx="583.5" cy="112.0" r="1.15"/><circle cx="637.3" cy="146.8" r="1.15"/><circle cx="602.5" cy="125.5" r="1.15"/><circle cx="599.6" cy="157.7" r="1.15"/><circle cx="581.4" cy="177.7" r="1.15"/><circle cx="595.2" cy="142.6" r="1.15"/><circle cx="574.8" cy="180.0" r="1.15"/><circle cx="620.7" cy="178.4" r="1.15"/><circle cx="593.6" cy="138.7" r="1.15"/><circle cx="587.9" cy="133.0" r="1.15"/><circle cx="584.3" cy="155.3" r="1.15"/><circle cx="601.7" cy="177.9" r="1.15"/><circle cx="592.2" cy="133.2" r="1.15"/><circle cx="599.3" cy="170.3" r="1.15"/><circle cx="612.3" cy="118.0" r="1.15"/><circle cx="581.7" cy="148.2" r="1.15"/><circle cx="600.5" cy="165.5" r="1.15"/><circle cx="589.6" cy="163.8" r="1.15"/><circle cx="604.3" cy="151.5" r="1.15"/><circle cx="595.2" cy="136.8" r="1.15"/><circle cx="627.7" cy="126.0" r="1.15"/><circle cx="636.2" cy="156.6" r="1.15"/><circle cx="600.9" cy="127.1" r="1.15"/><circle cx="603.7" cy="160.8" r="1.15"/><circle cx="637.1" cy="150.7" r="1.15"/><circle cx="582.6" cy="187.1" r="1.15"/><circle cx="616.2" cy="178.7" r="1.15"/><circle cx="644.8" cy="154.4" r="1.15"/><circle cx="582.3" cy="159.5" r="1.15"/><circle cx="622.7" cy="102.2" r="1.15"/><circle cx="637.3" cy="173.4" r="1.15"/><circle cx="639.9" cy="141.1" r="1.15"/><circle cx="601.8" cy="146.1" r="1.15"/><circle cx="588.1" cy="157.5" r="1.15"/><circle cx="572.1" cy="175.2" r="1.15"/><circle cx="627.2" cy="119.1" r="1.15"/><circle cx="636.7" cy="128.8" r="1.15"/><circle cx="607.5" cy="145.0" r="1.15"/><circle cx="634.9" cy="169.0" r="1.15"/><circle cx="617.0" cy="117.7" r="1.15"/><circle cx="614.8" cy="144.3" r="1.15"/><circle cx="622.7" cy="150.4" r="1.15"/><circle cx="594.5" cy="161.4" r="1.15"/><circle cx="621.1" cy="149.3" r="1.15"/><circle cx="613.8" cy="123.4" r="1.15"/><circle cx="614.6" cy="109.9" r="1.15"/><circle cx="633.4" cy="159.4" r="1.15"/><circle cx="615.2" cy="143.1" r="1.15"/><circle cx="591.2" cy="154.0" r="1.15"/><circle cx="624.3" cy="151.7" r="1.15"/><circle cx="609.4" cy="144.0" r="1.15"/><circle cx="595.4" cy="162.6" r="1.15"/><circle cx="639.6" cy="138.6" r="1.15"/><circle cx="624.7" cy="142.9" r="1.15"/><circle cx="617.9" cy="121.3" r="1.15"/><circle cx="608.7" cy="134.6" r="1.15"/><circle cx="611.2" cy="162.1" r="1.15"/><circle cx="596.1" cy="172.4" r="1.15"/><circle cx="607.9" cy="127.5" r="1.15"/><circle cx="578.9" cy="146.4" r="1.15"/><circle cx="582.2" cy="159.1" r="1.15"/><circle cx="606.2" cy="160.1" r="1.15"/><circle cx="624.6" cy="166.1" r="1.15"/><circle cx="618.2" cy="181.7" r="1.15"/><circle cx="608.3" cy="141.6" r="1.15"/><circle cx="597.5" cy="174.5" r="1.15"/><circle cx="608.1" cy="126.1" r="1.15"/><circle cx="588.3" cy="156.2" r="1.15"/><circle cx="578.0" cy="117.3" r="1.15"/><circle cx="593.8" cy="186.5" r="1.15"/><circle cx="613.5" cy="156.2" r="1.15"/><circle cx="610.2" cy="185.2" r="1.15"/><circle cx="611.4" cy="166.1" r="1.15"/><circle cx="598.0" cy="125.8" r="1.15"/><circle cx="596.9" cy="178.8" r="1.15"/><circle cx="596.0" cy="125.6" r="1.15"/><circle cx="601.2" cy="143.8" r="1.15"/><circle cx="572.6" cy="175.9" r="1.15"/><circle cx="591.3" cy="142.0" r="1.15"/><circle cx="612.9" cy="131.9" r="1.15"/><circle cx="620.7" cy="187.4" r="1.15"/><circle cx="607.1" cy="177.9" r="1.15"/><circle cx="613.7" cy="147.6" r="1.15"/><circle cx="629.7" cy="151.2" r="1.15"/></g>
<g fill="#4e8a4d"><circle cx="574.8" cy="154.7" r="1.15"/><circle cx="557.1" cy="178.1" r="1.15"/><circle cx="579.2" cy="180.5" r="1.15"/><circle cx="531.1" cy="160.2" r="1.15"/><circle cx="533.1" cy="188.4" r="1.15"/><circle cx="588.1" cy="187.8" r="1.15"/><circle cx="552.4" cy="156.0" r="1.15"/><circle cx="534.3" cy="152.2" r="1.15"/><circle cx="567.3" cy="188.0" r="1.15"/><circle cx="538.8" cy="161.9" r="1.15"/><circle cx="543.5" cy="167.6" r="1.15"/><circle cx="563.7" cy="183.8" r="1.15"/><circle cx="551.1" cy="175.8" r="1.15"/><circle cx="557.3" cy="187.1" r="1.15"/><circle cx="570.5" cy="160.1" r="1.15"/><circle cx="522.6" cy="164.3" r="1.15"/><circle cx="535.4" cy="171.9" r="1.15"/><circle cx="583.8" cy="193.5" r="1.15"/><circle cx="579.5" cy="183.1" r="1.15"/><circle cx="516.1" cy="147.9" r="1.15"/><circle cx="581.3" cy="175.9" r="1.15"/><circle cx="552.5" cy="183.9" r="1.15"/><circle cx="527.9" cy="167.7" r="1.15"/><circle cx="568.0" cy="175.6" r="1.15"/><circle cx="609.8" cy="208.7" r="1.15"/><circle cx="597.1" cy="182.0" r="1.15"/><circle cx="561.6" cy="174.6" r="1.15"/><circle cx="587.4" cy="187.2" r="1.15"/><circle cx="573.6" cy="188.8" r="1.15"/><circle cx="514.7" cy="143.6" r="1.15"/><circle cx="615.6" cy="194.9" r="1.15"/><circle cx="539.9" cy="136.1" r="1.15"/><circle cx="519.3" cy="156.8" r="1.15"/><circle cx="613.8" cy="213.2" r="1.15"/><circle cx="550.6" cy="155.5" r="1.15"/><circle cx="574.7" cy="192.9" r="1.15"/><circle cx="538.6" cy="138.9" r="1.15"/><circle cx="569.5" cy="184.1" r="1.15"/><circle cx="520.9" cy="147.4" r="1.15"/><circle cx="540.4" cy="171.4" r="1.15"/><circle cx="558.9" cy="171.6" r="1.15"/><circle cx="541.7" cy="183.5" r="1.15"/><circle cx="610.6" cy="196.0" r="1.15"/><circle cx="596.0" cy="180.0" r="1.15"/><circle cx="558.1" cy="187.2" r="1.15"/><circle cx="614.7" cy="198.1" r="1.15"/><circle cx="557.9" cy="176.4" r="1.15"/><circle cx="512.9" cy="146.9" r="1.15"/><circle cx="536.8" cy="167.6" r="1.15"/><circle cx="561.1" cy="179.5" r="1.15"/><circle cx="536.6" cy="177.5" r="1.15"/><circle cx="558.1" cy="161.1" r="1.15"/><circle cx="590.7" cy="161.4" r="1.15"/><circle cx="540.0" cy="161.9" r="1.15"/><circle cx="591.1" cy="188.7" r="1.15"/><circle cx="577.6" cy="171.4" r="1.15"/><circle cx="558.0" cy="204.7" r="1.15"/><circle cx="540.8" cy="163.1" r="1.15"/><circle cx="559.1" cy="193.1" r="1.15"/><circle cx="575.2" cy="197.9" r="1.15"/><circle cx="566.6" cy="182.5" r="1.15"/><circle cx="589.3" cy="197.9" r="1.15"/><circle cx="591.7" cy="185.0" r="1.15"/><circle cx="563.9" cy="171.2" r="1.15"/><circle cx="552.6" cy="153.5" r="1.15"/><circle cx="536.0" cy="172.3" r="1.15"/><circle cx="562.7" cy="176.7" r="1.15"/><circle cx="548.7" cy="184.9" r="1.15"/><circle cx="579.3" cy="182.3" r="1.15"/><circle cx="585.0" cy="185.4" r="1.15"/><circle cx="585.2" cy="170.0" r="1.15"/><circle cx="594.4" cy="200.4" r="1.15"/><circle cx="565.5" cy="194.2" r="1.15"/><circle cx="569.7" cy="176.6" r="1.15"/><circle cx="565.4" cy="171.4" r="1.15"/><circle cx="572.8" cy="182.8" r="1.15"/><circle cx="587.2" cy="182.4" r="1.15"/><circle cx="542.5" cy="176.8" r="1.15"/><circle cx="608.8" cy="195.0" r="1.15"/><circle cx="544.8" cy="195.6" r="1.15"/><circle cx="545.2" cy="179.4" r="1.15"/><circle cx="616.6" cy="207.3" r="1.15"/><circle cx="608.1" cy="187.9" r="1.15"/><circle cx="569.4" cy="177.8" r="1.15"/><circle cx="556.3" cy="193.5" r="1.15"/><circle cx="539.0" cy="171.3" r="1.15"/><circle cx="523.3" cy="162.2" r="1.15"/><circle cx="583.0" cy="181.8" r="1.15"/><circle cx="592.3" cy="162.7" r="1.15"/><circle cx="599.7" cy="167.1" r="1.15"/><circle cx="543.8" cy="153.8" r="1.15"/><circle cx="541.7" cy="179.8" r="1.15"/><circle cx="568.0" cy="170.8" r="1.15"/><circle cx="566.6" cy="208.1" r="1.15"/><circle cx="559.2" cy="180.4" r="1.15"/></g>
<g fill="#b1373a"><circle cx="646.5" cy="115" r="1.15"/><circle cx="619" cy="161.5" r="1.15"/><circle cx="573" cy="211" r="1.15"/><circle cx="582" cy="152" r="1.15"/></g>
<g fill="#5673a9"><circle cx="539.7" cy="186.5" r="1.15"/><circle cx="565.5" cy="202" r="1.15"/><circle cx="656.5" cy="144.5" r="1.15"/></g>
<g fill="#4e8a4d"><circle cx="585" cy="77.5" r="1.15"/><circle cx="541.5" cy="112" r="1.15"/><circle cx="606" cy="137" r="1.15"/></g>
<circle cx="595.3" cy="30.0" r="1.1" fill="#b1373a"/>
<text x="600.00" y="32.99" font-size="8.3" fill="#000" >Cluster1:85 samples</text>
<circle cx="595.3" cy="40.4" r="1.1" fill="#5673a9"/>
<text x="600.00" y="43.39" font-size="8.3" fill="#000" >Cluster2:156 samples</text>
<circle cx="595.3" cy="50.0" r="1.1" fill="#4e8a4d"/>
<text x="600.00" y="52.99" font-size="8.3" fill="#000" >Cluster3:99 samples</text>
</g>
<g id="panelD">
<text x="4.60" y="343.95" font-size="13.2" fill="#000" >D</text>
<text x="31.90" y="343.97" font-size="11.3" fill="#000" font-weight="bold" >Older patients</text>
<line x1="31.30" y1="347.40" x2="31.30" y2="559.00" stroke="#000" stroke-width="1.5" />
<line x1="30.60" y1="558.30" x2="252.60" y2="558.30" stroke="#000" stroke-width="1.5" />
<line x1="28.90" y1="357.90" x2="31.30" y2="357.90" stroke="#000" stroke-width="0.9" />
<text x="27.60" y="361.14" font-size="9.0" fill="#111" text-anchor="end" >1.0</text>
<line x1="28.90" y1="396.20" x2="31.30" y2="396.20" stroke="#000" stroke-width="0.9" />
<text x="27.60" y="399.44" font-size="9.0" fill="#111" text-anchor="end" >0.8</text>
<line x1="28.90" y1="434.50" x2="31.30" y2="434.50" stroke="#000" stroke-width="0.9" />
<text x="27.60" y="437.74" font-size="9.0" fill="#111" text-anchor="end" >0.6</text>
<line x1="28.90" y1="473.20" x2="31.30" y2="473.20" stroke="#000" stroke-width="0.9" />
<text x="27.60" y="476.44" font-size="9.0" fill="#111" text-anchor="end" >0.4</text>
<line x1="28.90" y1="511.60" x2="31.30" y2="511.60" stroke="#000" stroke-width="0.9" />
<text x="27.60" y="514.84" font-size="9.0" fill="#111" text-anchor="end" >0.2</text>
<line x1="28.90" y1="549.70" x2="31.30" y2="549.70" stroke="#000" stroke-width="0.9" />
<text x="27.60" y="552.94" font-size="9.0" fill="#111" text-anchor="end" >0.0</text>
<line x1="40.60" y1="558.30" x2="40.60" y2="560.80" stroke="#000" stroke-width="0.9" />
<text x="38.60" y="569.28" font-size="9.1" fill="#111" text-anchor="middle" >0</text>
<line x1="81.50" y1="558.30" x2="81.50" y2="560.80" stroke="#000" stroke-width="0.9" />
<text x="80.30" y="569.28" font-size="9.1" fill="#111" text-anchor="middle" >1000</text>
<line x1="122.20" y1="558.30" x2="122.20" y2="560.80" stroke="#000" stroke-width="0.9" />
<text x="121.00" y="569.28" font-size="9.1" fill="#111" text-anchor="middle" >2000</text>
<line x1="162.80" y1="558.30" x2="162.80" y2="560.80" stroke="#000" stroke-width="0.9" />
<text x="161.60" y="569.28" font-size="9.1" fill="#111" text-anchor="middle" >3000</text>
<line x1="203.40" y1="558.30" x2="203.40" y2="560.80" stroke="#000" stroke-width="0.9" />
<text x="202.20" y="569.28" font-size="9.1" fill="#111" text-anchor="middle" >4000</text>
<line x1="244.00" y1="558.30" x2="244.00" y2="560.80" stroke="#000" stroke-width="0.9" />
<text x="242.80" y="569.28" font-size="9.1" fill="#111" text-anchor="middle" >5000</text>
<text x="143.60" y="579.50" font-size="8.9" fill="#000" text-anchor="middle" >Time(days)</text>
<text x="0" y="3.33" font-size="9.25" fill="#000" transform="translate(4.80,449.20) rotate(-90)" text-anchor="middle" >Overall Survival</text>
<polyline points="40.30,357.20 52.00,357.20 52.00,359.80 77.00,359.80 77.00,368.20 99.80,368.20 99.80,380.70 113.90,380.70 113.90,402.60 137.40,402.60 137.40,423.40 177.60,423.40 177.60,423.40" fill="none" stroke="#d96c52" stroke-width="2.6" stroke-linejoin="miter"/>
<line x1="42.00" y1="354.20" x2="42.00" y2="357.50" stroke="#d96c52" stroke-width="0.9" />
<line x1="43.50" y1="354.20" x2="43.50" y2="357.50" stroke="#d96c52" stroke-width="0.9" />
<line x1="45.00" y1="354.20" x2="45.00" y2="357.50" stroke="#d96c52" stroke-width="0.9" />
<line x1="47.00" y1="354.20" x2="47.00" y2="357.50" stroke="#d96c52" stroke-width="0.9" />
<line x1="49.00" y1="354.20" x2="49.00" y2="357.50" stroke="#d96c52" stroke-width="0.9" />
<line x1="51.00" y1="354.20" x2="51.00" y2="357.50" stroke="#d96c52" stroke-width="0.9" />
<line x1="56.00" y1="356.80" x2="56.00" y2="360.10" stroke="#d96c52" stroke-width="0.9" />
<line x1="60.00" y1="356.80" x2="60.00" y2="360.10" stroke="#d96c52" stroke-width="0.9" />
<line x1="64.00" y1="356.80" x2="64.00" y2="360.10" stroke="#d96c52" stroke-width="0.9" />
<line x1="68.00" y1="356.80" x2="68.00" y2="360.10" stroke="#d96c52" stroke-width="0.9" />
<line x1="72.00" y1="356.80" x2="72.00" y2="360.10" stroke="#d96c52" stroke-width="0.9" />
<line x1="75.00" y1="356.80" x2="75.00" y2="360.10" stroke="#d96c52" stroke-width="0.9" />
<line x1="83.00" y1="365.20" x2="83.00" y2="368.50" stroke="#d96c52" stroke-width="0.9" />
<line x1="88.00" y1="365.20" x2="88.00" y2="368.50" stroke="#d96c52" stroke-width="0.9" />
<line x1="95.00" y1="365.20" x2="95.00" y2="368.50" stroke="#d96c52" stroke-width="0.9" />
<line x1="104.00" y1="377.70" x2="104.00" y2="381.00" stroke="#d96c52" stroke-width="0.9" />
<line x1="108.00" y1="377.70" x2="108.00" y2="381.00" stroke="#d96c52" stroke-width="0.9" />
<line x1="112.00" y1="377.70" x2="112.00" y2="381.00" stroke="#d96c52" stroke-width="0.9" />
<line x1="140.00" y1="420.40" x2="140.00" y2="423.70" stroke="#d96c52" stroke-width="0.9" />
<line x1="148.00" y1="420.40" x2="148.00" y2="423.70" stroke="#d96c52" stroke-width="0.9" />
<line x1="160.00" y1="420.40" x2="160.00" y2="423.70" stroke="#d96c52" stroke-width="0.9" />
<line x1="165.00" y1="420.40" x2="165.00" y2="423.70" stroke="#d96c52" stroke-width="0.9" />
<line x1="170.00" y1="420.40" x2="170.00" y2="423.70" stroke="#d96c52" stroke-width="0.9" />
<line x1="176.00" y1="420.40" x2="176.00" y2="423.70" stroke="#d96c52" stroke-width="0.9" />
<polyline points="40.30,356.60 45.00,356.60 45.00,358.50 51.20,358.50 51.20,361.00 56.00,361.00 56.00,363.50 62.60,363.50 62.60,365.80 65.50,365.80 65.50,371.50 75.00,371.50 75.00,375.90 81.60,375.90 81.60,380.00 93.00,380.00 93.00,386.70 108.20,386.70 108.20,392.00 109.00,392.00 109.00,405.70 119.60,405.70 119.60,417.00 122.40,417.00 122.40,425.30 139.40,425.30 139.40,438.40 140.40,438.40 140.40,448.80 161.60,448.80 161.60,461.20 167.00,461.20 167.00,473.60 241.50,473.60 241.50,473.60" fill="none" stroke="#5db6aa" stroke-width="2.6" stroke-linejoin="miter"/>
<line x1="42.00" y1="353.60" x2="42.00" y2="356.90" stroke="#5db6aa" stroke-width="0.9" />
<line x1="44.00" y1="353.60" x2="44.00" y2="356.90" stroke="#5db6aa" stroke-width="0.9" />
<line x1="46.00" y1="355.50" x2="46.00" y2="358.80" stroke="#5db6aa" stroke-width="0.9" />
<line x1="48.00" y1="355.50" x2="48.00" y2="358.80" stroke="#5db6aa" stroke-width="0.9" />
<line x1="50.00" y1="355.50" x2="50.00" y2="358.80" stroke="#5db6aa" stroke-width="0.9" />
<line x1="53.00" y1="358.00" x2="53.00" y2="361.30" stroke="#5db6aa" stroke-width="0.9" />
<line x1="55.00" y1="358.00" x2="55.00" y2="361.30" stroke="#5db6aa" stroke-width="0.9" />
<line x1="58.00" y1="360.50" x2="58.00" y2="363.80" stroke="#5db6aa" stroke-width="0.9" />
<line x1="60.00" y1="360.50" x2="60.00" y2="363.80" stroke="#5db6aa" stroke-width="0.9" />
<line x1="63.00" y1="362.80" x2="63.00" y2="366.10" stroke="#5db6aa" stroke-width="0.9" />
<line x1="67.00" y1="368.50" x2="67.00" y2="371.80" stroke="#5db6aa" stroke-width="0.9" />
<line x1="70.00" y1="368.50" x2="70.00" y2="371.80" stroke="#5db6aa" stroke-width="0.9" />
<line x1="73.00" y1="368.50" x2="73.00" y2="371.80" stroke="#5db6aa" stroke-width="0.9" />
<line x1="78.00" y1="372.90" x2="78.00" y2="376.20" stroke="#5db6aa" stroke-width="0.9" />
<line x1="84.00" y1="377.00" x2="84.00" y2="380.30" stroke="#5db6aa" stroke-width="0.9" />
<line x1="87.00" y1="377.00" x2="87.00" y2="380.30" stroke="#5db6aa" stroke-width="0.9" />
<line x1="90.00" y1="377.00" x2="90.00" y2="380.30" stroke="#5db6aa" stroke-width="0.9" />
<line x1="96.00" y1="383.70" x2="96.00" y2="387.00" stroke="#5db6aa" stroke-width="0.9" />
<line x1="100.00" y1="383.70" x2="100.00" y2="387.00" stroke="#5db6aa" stroke-width="0.9" />
<line x1="104.00" y1="383.70" x2="104.00" y2="387.00" stroke="#5db6aa" stroke-width="0.9" />
<line x1="112.00" y1="402.70" x2="112.00" y2="406.00" stroke="#5db6aa" stroke-width="0.9" />
<line x1="116.00" y1="402.70" x2="116.00" y2="406.00" stroke="#5db6aa" stroke-width="0.9" />
<line x1="126.00" y1="422.30" x2="126.00" y2="425.60" stroke="#5db6aa" stroke-width="0.9" />
<line x1="132.00" y1="422.30" x2="132.00" y2="425.60" stroke="#5db6aa" stroke-width="0.9" />
<line x1="150.00" y1="445.80" x2="150.00" y2="449.10" stroke="#5db6aa" stroke-width="0.9" />
<line x1="156.00" y1="445.80" x2="156.00" y2="449.10" stroke="#5db6aa" stroke-width="0.9" />
<line x1="172.00" y1="470.60" x2="172.00" y2="473.90" stroke="#5db6aa" stroke-width="0.9" />
<line x1="180.00" y1="470.60" x2="180.00" y2="473.90" stroke="#5db6aa" stroke-width="0.9" />
<line x1="196.00" y1="470.60" x2="196.00" y2="473.90" stroke="#5db6aa" stroke-width="0.9" />
<line x1="200.00" y1="470.60" x2="200.00" y2="473.90" stroke="#5db6aa" stroke-width="0.9" />
<line x1="207.00" y1="470.60" x2="207.00" y2="473.90" stroke="#5db6aa" stroke-width="0.9" />
<line x1="239.00" y1="470.60" x2="239.00" y2="473.90" stroke="#5db6aa" stroke-width="0.9" />
<polyline points="40.30,357.50 41.50,357.50 41.50,359.00 46.00,359.00 46.00,362.00 50.30,362.00 50.30,367.70 54.00,367.70 54.00,374.20 73.00,374.20 73.00,380.00 76.90,380.00 76.90,387.60 78.80,387.60 78.80,395.20 81.60,395.20 81.60,402.80 88.30,402.80 88.30,413.30 96.80,413.30 96.80,426.50 103.40,426.50 103.40,438.90 105.30,438.90 105.30,450.70 127.10,450.70 127.10,467.20 143.50,467.20 143.50,483.90 154.50,483.90 154.50,499.50 181.40,499.50 181.40,524.90 201.10,524.90 201.10,548.80" fill="none" stroke="#c9363f" stroke-width="2.6" stroke-linejoin="miter"/>
<line x1="43.00" y1="356.00" x2="43.00" y2="359.30" stroke="#c9363f" stroke-width="0.9" />
<line x1="45.00" y1="356.00" x2="45.00" y2="359.30" stroke="#c9363f" stroke-width="0.9" />
<line x1="48.00" y1="359.00" x2="48.00" y2="362.30" stroke="#c9363f" stroke-width="0.9" />
<line x1="57.00" y1="371.20" x2="57.00" y2="374.50" stroke="#c9363f" stroke-width="0.9" />
<line x1="60.00" y1="371.20" x2="60.00" y2="374.50" stroke="#c9363f" stroke-width="0.9" />
<line x1="63.00" y1="371.20" x2="63.00" y2="374.50" stroke="#c9363f" stroke-width="0.9" />
<line x1="66.00" y1="371.20" x2="66.00" y2="374.50" stroke="#c9363f" stroke-width="0.9" />
<line x1="70.00" y1="371.20" x2="70.00" y2="374.50" stroke="#c9363f" stroke-width="0.9" />
<line x1="80.00" y1="392.20" x2="80.00" y2="395.50" stroke="#c9363f" stroke-width="0.9" />
<line x1="85.00" y1="399.80" x2="85.00" y2="403.10" stroke="#c9363f" stroke-width="0.9" />
<line x1="92.00" y1="410.30" x2="92.00" y2="413.60" stroke="#c9363f" stroke-width="0.9" />
<line x1="110.00" y1="447.70" x2="110.00" y2="451.00" stroke="#c9363f" stroke-width="0.9" />
<line x1="120.00" y1="447.70" x2="120.00" y2="451.00" stroke="#c9363f" stroke-width="0.9" />
<text x="46.00" y="519.44" font-size="14.0" fill="#000" font-weight="bold" font-style="italic" >P</text>
<text x="60.30" y="519.22" font-size="13.4" fill="#000" >= 0.0079</text>
<text x="190.50" y="364.11" font-size="9.2" fill="#000" >Cluster</text>
<line x1="191.10" y1="373.30" x2="199.80" y2="373.30" stroke="#d96c52" stroke-width="3.0" />
<line x1="195.40" y1="370.40" x2="195.40" y2="373.00" stroke="#d96c52" stroke-width="1.3" />
<text x="203.80" y="375.42" font-size="8.1" fill="#000" >Cluster1 (n = 85)</text>
<line x1="191.10" y1="383.20" x2="199.80" y2="383.20" stroke="#5db6aa" stroke-width="3.0" />
<line x1="195.40" y1="380.30" x2="195.40" y2="382.90" stroke="#5db6aa" stroke-width="1.3" />
<text x="203.80" y="385.32" font-size="8.1" fill="#000" >Cluster2 (n = 156)</text>
<line x1="191.10" y1="393.20" x2="199.80" y2="393.20" stroke="#c9363f" stroke-width="3.0" />
<line x1="195.40" y1="390.30" x2="195.40" y2="392.90" stroke="#c9363f" stroke-width="1.3" />
<text x="203.80" y="395.32" font-size="8.1" fill="#000" >Cluster3 (n = 99)</text>
</g>
<g id="panelE">
<text x="268.60" y="315.35" font-size="13.2" fill="#000" >E</text>
<path d="M318.80,307.70 C367.35,307.70 356.95,307.70 405.50,307.70 L405.50,350.90 C356.95,350.90 367.35,352.30 318.80,352.30 Z" fill="#532d7a" fill-opacity="0.3"/>
<path d="M318.80,352.30 C367.35,352.30 356.95,517.70 405.50,517.70 L405.50,519.40 C356.95,519.40 367.35,354.00 318.80,354.00 Z" fill="#532d7a" fill-opacity="0.4"/>
<path d="M318.80,354.30 C367.35,354.30 356.95,351.80 405.50,351.80 L405.50,466.30 C356.95,466.30 367.35,469.10 318.80,469.10 Z" fill="#b12a4c" fill-opacity="0.3"/>
<path d="M318.80,469.30 C367.35,469.30 356.95,466.50 405.50,466.50 L405.50,518.00 C356.95,518.00 367.35,520.20 318.80,520.20 Z" fill="#e5304e" fill-opacity="0.3"/>
<path d="M318.80,521.40 C367.35,521.40 356.95,520.70 405.50,520.70 L405.50,539.20 C356.95,539.20 367.35,539.20 318.80,539.20 Z" fill="#e5304e" fill-opacity="0.3"/>
<path d="M439.20,307.70 C488.37,307.70 477.83,307.70 527.00,307.70 L527.00,318.30 C477.83,318.30 488.37,318.30 439.20,318.30 Z" fill="#131435" fill-opacity="0.3"/>
<path d="M439.20,320.00 C488.37,320.00 477.83,338.70 527.00,338.70 L527.00,358.20 C477.83,358.20 488.37,339.40 439.20,339.40 Z" fill="#131435" fill-opacity="0.3"/>
<path d="M439.20,340.00 C488.37,340.00 477.83,361.50 527.00,361.50 L527.00,437.20 C477.83,437.20 488.37,416.20 439.20,416.20 Z" fill="#131435" fill-opacity="0.3"/>
<path d="M439.20,416.80 C488.37,416.80 477.83,437.70 527.00,437.70 L527.00,530.00 C477.83,530.00 488.37,509.20 439.20,509.20 Z" fill="#131435" fill-opacity="0.3"/>
<path d="M439.20,509.80 C488.37,509.80 477.83,530.40 527.00,530.40 L527.00,537.80 C477.83,537.80 488.37,517.60 439.20,517.60 Z" fill="#131435" fill-opacity="0.3"/>
<path d="M439.20,517.90 C488.37,517.90 477.83,319.20 527.00,319.20 L527.00,337.80 C477.83,337.80 488.37,537.20 439.20,537.20 Z" fill="#5b3088" fill-opacity="0.3"/>
<path d="M439.20,537.40 C488.37,537.40 477.83,359.20 527.00,359.20 L527.00,360.20 C477.83,360.20 488.37,538.00 439.20,538.00 Z" fill="#5b3088" fill-opacity="0.4"/>
<path d="M439.20,538.20 C488.37,538.20 477.83,538.00 527.00,538.00 L527.00,539.20 C477.83,539.20 488.37,539.20 439.20,539.20 Z" fill="#5b3088" fill-opacity="0.3"/>
<path d="M560.70,307.70 C609.59,307.70 599.11,307.70 648.00,307.70 L648.00,311.00 C599.11,311.00 609.59,311.00 560.70,311.00 Z" fill="#3a2a5c" fill-opacity="0.3"/>
<path d="M560.70,312.00 C609.59,312.00 599.11,319.00 648.00,319.00 L648.00,324.80 C599.11,324.80 609.59,318.20 560.70,318.20 Z" fill="#3a2a5c" fill-opacity="0.3"/>
<path d="M560.70,318.30 C609.59,318.30 599.11,467.00 648.00,467.00 L648.00,467.50 C599.11,467.50 609.59,318.80 560.70,318.80 Z" fill="#3a2a5c" fill-opacity="0.5"/>
<path d="M560.70,318.90 C609.59,318.90 599.11,518.00 648.00,518.00 L648.00,536.60 C599.11,536.60 609.59,338.00 560.70,338.00 Z" fill="#3a2a5c" fill-opacity="0.32"/>
<path d="M560.70,338.30 C609.59,338.30 599.11,311.40 648.00,311.40 L648.00,318.20 C599.11,318.20 609.59,343.80 560.70,343.80 Z" fill="#e0453a" fill-opacity="0.3"/>
<path d="M560.70,344.50 C609.59,344.50 599.11,325.50 648.00,325.50 L648.00,329.90 C599.11,329.90 609.59,348.90 560.70,348.90 Z" fill="#e0453a" fill-opacity="0.3"/>
<path d="M560.70,350.40 C609.59,350.40 599.11,468.40 648.00,468.40 L648.00,477.80 C599.11,477.80 609.59,360.60 560.70,360.60 Z" fill="#e0453a" fill-opacity="0.3"/>
<path d="M560.70,360.70 C609.59,360.70 599.11,536.70 648.00,536.70 L648.00,537.30 C599.11,537.30 609.59,361.20 560.70,361.20 Z" fill="#e0453a" fill-opacity="0.6"/>
<path d="M560.70,361.50 C609.59,361.50 599.11,330.20 648.00,330.20 L648.00,394.00 C599.11,394.00 609.59,424.80 560.70,424.80 Z" fill="#e4b944" fill-opacity="0.3"/>
<path d="M560.70,425.30 C609.59,425.30 599.11,478.00 648.00,478.00 L648.00,490.30 C599.11,490.30 609.59,437.60 560.70,437.60 Z" fill="#e4b944" fill-opacity="0.34"/>
<path d="M560.70,438.00 C609.59,438.00 599.11,394.40 648.00,394.40 L648.00,461.50 C599.11,461.50 609.59,504.90 560.70,504.90 Z" fill="#649548" fill-opacity="0.3"/>
<path d="M560.70,506.30 C609.59,506.30 599.11,491.00 648.00,491.00 L648.00,515.60 C599.11,515.60 609.59,530.20 560.70,530.20 Z" fill="#649548" fill-opacity="0.3"/>
<path d="M560.70,531.10 C609.59,531.10 599.11,462.80 648.00,462.80 L648.00,467.30 C599.11,467.30 609.59,534.80 560.70,534.80 Z" fill="#2d2257" fill-opacity="0.3"/>
<path d="M560.70,535.00 C609.59,535.00 599.11,515.80 648.00,515.80 L648.00,517.30 C599.11,517.30 609.59,536.90 560.70,536.90 Z" fill="#2d2257" fill-opacity="0.3"/>
<path d="M560.70,537.40 C609.59,537.40 599.11,537.70 648.00,537.70 L648.00,538.90 C599.11,538.90 609.59,538.60 560.70,538.60 Z" fill="#2d2257" fill-opacity="0.3"/>
<rect x="284.70" y="307.70" width="34.10" height="46.50" fill="#532d7a" stroke="#000" stroke-width="0.8" />
<text x="301.75" y="333.58" font-size="7.3" fill="#fff" text-anchor="middle" >Cluster1</text>
<rect x="284.70" y="354.20" width="34.10" height="115.00" fill="#b12a4c" stroke="#000" stroke-width="0.8" />
<text x="301.75" y="414.33" font-size="7.3" fill="#fff" text-anchor="middle" >Cluster2</text>
<rect x="284.70" y="469.20" width="34.10" height="70.00" fill="#e5304e" stroke="#000" stroke-width="0.8" />
<text x="301.75" y="506.83" font-size="7.3" fill="#fff" text-anchor="middle" >Cluster3</text>
<rect x="405.50" y="307.70" width="33.70" height="210.00" fill="#131435" stroke="#000" stroke-width="0.8" />
<text x="422.35" y="415.27" font-size="7.15" fill="#fff" text-anchor="middle" >no_TNBC</text>
<rect x="405.50" y="517.70" width="33.70" height="21.50" fill="#5b3088" stroke="#000" stroke-width="0.8" />
<text x="422.35" y="531.08" font-size="7.3" fill="#fff" text-anchor="middle" >TNBC</text>
<rect x="527.00" y="307.70" width="33.70" height="30.50" fill="#3a2a5c" stroke="#000" stroke-width="0.8" />
<text x="543.85" y="325.58" font-size="7.3" fill="#fff" text-anchor="middle" >Basal</text>
<rect x="527.00" y="338.20" width="33.70" height="23.10" fill="#e0453a" stroke="#000" stroke-width="0.8" />
<text x="543.85" y="352.38" font-size="7.3" fill="#fff" text-anchor="middle" >Her2</text>
<rect x="527.00" y="361.30" width="33.70" height="76.40" fill="#e4b944" stroke="#000" stroke-width="0.8" />
<text x="543.85" y="402.13" font-size="7.3" fill="#fff" text-anchor="middle" >LumA</text>
<rect x="527.00" y="437.70" width="33.70" height="92.50" fill="#649548" stroke="#000" stroke-width="0.8" />
<text x="543.85" y="486.58" font-size="7.3" fill="#fff" text-anchor="middle" >LumB</text>
<rect x="527.00" y="530.20" width="33.70" height="9.00" fill="#2d2257" stroke="#000" stroke-width="0.8" />
<text x="543.85" y="537.29" font-size="7.2" fill="#fff" text-anchor="middle" >Normal</text>
<rect x="648.00" y="307.70" width="34.80" height="10.60" fill="#e8673a" stroke="#000" stroke-width="0.8" />
<text x="665.40" y="315.63" font-size="7.3" fill="#fff" text-anchor="middle" >HER2</text>
<rect x="648.00" y="318.30" width="34.80" height="149.00" fill="#3f5a3b" stroke="#000" stroke-width="0.8" />
<text x="665.40" y="395.46" font-size="7.4" fill="#fff" text-anchor="middle" >luminal A</text>
<rect x="648.00" y="467.30" width="34.80" height="50.10" fill="#588c8d" stroke="#000" stroke-width="0.8" />
<text x="665.40" y="495.01" font-size="7.4" fill="#fff" text-anchor="middle" >luminal B</text>
<rect x="648.00" y="517.40" width="34.80" height="21.80" fill="#5b3088" stroke="#000" stroke-width="0.8" />
<text x="665.40" y="530.93" font-size="7.3" fill="#fff" text-anchor="middle" >TNBC</text>
</g>
<g id="panelF">
<text x="5.20" y="594.95" font-size="13.2" fill="#000" >F</text>
<line x1="32.50" y1="587.00" x2="32.50" y2="716.30" stroke="#000" stroke-width="1.4" />
<line x1="31.90" y1="715.70" x2="164.00" y2="715.70" stroke="#000" stroke-width="1.4" />
<text x="28.30" y="593.31" font-size="9.2" fill="#111" text-anchor="end" font-family="Liberation Serif, Times New Roman, serif" >80</text>
<text x="28.30" y="626.51" font-size="9.2" fill="#111" text-anchor="end" font-family="Liberation Serif, Times New Roman, serif" >40</text>
<text x="28.30" y="659.51" font-size="9.2" fill="#111" text-anchor="end" font-family="Liberation Serif, Times New Roman, serif" >0</text>
<text x="28.30" y="692.31" font-size="9.2" fill="#111" text-anchor="end" font-family="Liberation Serif, Times New Roman, serif" >−40</text>
<text x="0" y="3.35" font-size="9.3" fill="#000" transform="translate(8.50,651.60) rotate(-90)" text-anchor="middle" font-family="Liberation Serif, Times New Roman, serif" >Buffa Hypoxia Score</text>
<path d="M57.45,601.00 C57.54,602.17 57.44,605.83 57.50,608.00 C57.56,610.17 57.62,612.05 57.80,614.00 C57.98,615.95 58.38,617.70 58.60,619.70 C58.82,621.70 58.88,623.78 59.10,626.00 C59.32,628.22 59.38,630.27 59.90,633.00 C60.42,635.73 61.02,639.25 62.20,642.40 C63.38,645.55 65.57,649.05 67.00,651.90 C68.43,654.75 69.97,656.97 70.80,659.50 C71.63,662.03 72.00,664.57 72.00,667.10 C72.00,669.63 71.73,672.17 70.80,674.70 C69.87,677.23 67.95,679.77 66.40,682.30 C64.85,684.83 62.78,687.68 61.50,689.90 C60.22,692.12 59.32,693.70 58.70,695.60 C58.08,697.50 58.03,698.93 57.80,701.30 C57.57,703.67 57.42,708.38 57.30,709.80 C57.18,711.22 57.22,711.22 57.10,709.80 C56.98,708.38 56.83,703.67 56.60,701.30 C56.37,698.93 56.32,697.50 55.70,695.60 C55.08,693.70 54.18,692.12 52.90,689.90 C51.62,687.68 49.55,684.83 48.00,682.30 C46.45,679.77 44.53,677.23 43.60,674.70 C42.67,672.17 42.40,669.63 42.40,667.10 C42.40,664.57 42.77,662.03 43.60,659.50 C44.43,656.97 45.97,654.75 47.40,651.90 C48.83,649.05 51.02,645.55 52.20,642.40 C53.38,639.25 53.98,635.73 54.50,633.00 C55.02,630.27 55.08,628.22 55.30,626.00 C55.52,623.78 55.58,621.70 55.80,619.70 C56.02,617.70 56.42,615.95 56.60,614.00 C56.78,612.05 56.84,610.17 56.90,608.00 C56.96,605.83 56.86,602.17 56.95,601.00 C57.04,599.83 57.36,599.83 57.45,601.00 Z" fill="#4d968b" stroke="#000" stroke-width="1.15" stroke-linejoin="round"/>
<line x1="57.20" y1="620.00" x2="57.20" y2="696.00" stroke="#000" stroke-width="1.0" />
<rect x="52.90" y="653.80" width="8.60" height="20.00" fill="#fff" stroke="#000" stroke-width="1.1" />
<line x1="52.90" y1="665.60" x2="61.50" y2="665.60" stroke="#000" stroke-width="2.0" />
<path d="M98.25,611.00 C98.34,613.33 98.24,620.38 98.30,625.00 C98.36,629.62 98.40,635.48 98.60,638.70 C98.80,641.92 98.73,642.10 99.50,644.30 C100.27,646.50 101.47,649.37 103.20,651.90 C104.93,654.43 108.00,656.97 109.90,659.50 C111.80,662.03 113.47,664.72 114.60,667.10 C115.73,669.48 116.67,671.58 116.70,673.80 C116.73,676.02 115.93,678.35 114.80,680.40 C113.67,682.45 111.67,684.20 109.90,686.10 C108.13,688.00 105.77,690.22 104.20,691.80 C102.63,693.38 101.40,694.50 100.50,695.60 C99.60,696.70 99.20,697.13 98.80,698.40 C98.40,699.67 98.25,702.40 98.10,703.20 C97.95,704.00 98.05,704.00 97.90,703.20 C97.75,702.40 97.60,699.67 97.20,698.40 C96.80,697.13 96.40,696.70 95.50,695.60 C94.60,694.50 93.37,693.38 91.80,691.80 C90.23,690.22 87.87,688.00 86.10,686.10 C84.33,684.20 82.33,682.45 81.20,680.40 C80.07,678.35 79.27,676.02 79.30,673.80 C79.33,671.58 80.27,669.48 81.40,667.10 C82.53,664.72 84.20,662.03 86.10,659.50 C88.00,656.97 91.07,654.43 92.80,651.90 C94.53,649.37 95.73,646.50 96.50,644.30 C97.27,642.10 97.20,641.92 97.40,638.70 C97.60,635.48 97.64,629.62 97.70,625.00 C97.76,620.38 97.66,613.33 97.75,611.00 C97.84,608.67 98.16,608.67 98.25,611.00 Z" fill="#e8502b" stroke="#000" stroke-width="1.15" stroke-linejoin="round"/>
<line x1="98.00" y1="645.00" x2="98.00" y2="698.00" stroke="#000" stroke-width="1.0" />
<rect x="93.70" y="665.20" width="8.60" height="16.70" fill="#fff" stroke="#000" stroke-width="1.1" />
<line x1="93.70" y1="673.20" x2="102.30" y2="673.20" stroke="#000" stroke-width="2.0" />
<path d="M139.65,598.80 C139.79,600.70 139.84,607.35 140.00,610.20 C140.16,613.05 140.07,613.68 140.60,615.90 C141.13,618.12 141.95,620.97 143.20,623.50 C144.45,626.03 146.65,628.57 148.10,631.10 C149.55,633.63 151.02,636.18 151.90,638.70 C152.78,641.22 153.30,644.00 153.40,646.20 C153.50,648.40 153.17,649.68 152.50,651.90 C151.83,654.12 150.48,656.97 149.40,659.50 C148.32,662.03 147.00,664.57 146.00,667.10 C145.00,669.63 144.15,672.17 143.40,674.70 C142.65,677.23 142.02,679.77 141.50,682.30 C140.98,684.83 140.63,686.73 140.30,689.90 C139.97,693.07 139.67,699.40 139.50,701.30 C139.33,703.20 139.47,703.20 139.30,701.30 C139.13,699.40 138.83,693.07 138.50,689.90 C138.17,686.73 137.82,684.83 137.30,682.30 C136.78,679.77 136.15,677.23 135.40,674.70 C134.65,672.17 133.80,669.63 132.80,667.10 C131.80,664.57 130.48,662.03 129.40,659.50 C128.32,656.97 126.97,654.12 126.30,651.90 C125.63,649.68 125.30,648.40 125.40,646.20 C125.50,644.00 126.02,641.22 126.90,638.70 C127.78,636.18 129.25,633.63 130.70,631.10 C132.15,628.57 134.35,626.03 135.60,623.50 C136.85,620.97 137.67,618.12 138.20,615.90 C138.73,613.68 138.64,613.05 138.80,610.20 C138.96,607.35 139.01,600.70 139.15,598.80 C139.29,596.90 139.51,596.90 139.65,598.80 Z" fill="#9b2732" stroke="#000" stroke-width="1.15" stroke-linejoin="round"/>
<line x1="139.40" y1="616.00" x2="139.40" y2="700.00" stroke="#000" stroke-width="1.0" />
<rect x="135.10" y="640.20" width="8.60" height="21.60" fill="#fff" stroke="#000" stroke-width="1.1" />
<line x1="135.10" y1="650.40" x2="143.70" y2="650.40" stroke="#000" stroke-width="2.0" />
<polyline points="57.00,596.00 57.00,593.80 139.50,593.80 139.50,596.00" fill="none" stroke="#1a1a1a" stroke-width="0.85" />
<text x="106.30" y="591.17" font-size="6.85" text-anchor="middle" fill="#111"><tspan font-weight="bold" font-style="italic">P</tspan> = <tspan font-size="6.85">3.5e−07</tspan></text>
<polyline points="98.30,604.80 98.30,602.60 139.50,602.60 139.50,604.80" fill="none" stroke="#1a1a1a" stroke-width="0.85" />
<text x="116.50" y="600.38" font-size="6.9" text-anchor="middle" fill="#111"><tspan font-weight="bold" font-style="italic">P</tspan> &lt; <tspan font-size="6.9">2.22e−16</tspan></text>
<polyline points="57.00,614.00 57.00,611.80 98.30,611.80 98.30,614.00" fill="none" stroke="#1a1a1a" stroke-width="0.85" />
<text x="79.50" y="609.38" font-size="6.6" text-anchor="middle" fill="#111"><tspan font-weight="bold" font-style="italic">P</tspan> = <tspan font-size="6.0">4.4e−06</tspan></text>
<text x="66.30" y="728.86" font-size="9.05" fill="#111" text-anchor="middle" >Cluster1</text>
<text x="109.20" y="728.86" font-size="9.05" fill="#111" text-anchor="middle" >Cluster2</text>
<text x="149.60" y="728.86" font-size="9.05" fill="#111" text-anchor="middle" >Cluster3</text>
<line x1="192.50" y1="585.80" x2="192.50" y2="716.30" stroke="#000" stroke-width="1.4" />
<line x1="191.90" y1="715.70" x2="324.90" y2="715.70" stroke="#000" stroke-width="1.4" />
<text x="189.00" y="605.24" font-size="9.0" fill="#111" text-anchor="end" font-family="Liberation Serif, Times New Roman, serif" >100</text>
<text x="189.00" y="635.34" font-size="9.0" fill="#111" text-anchor="end" font-family="Liberation Serif, Times New Roman, serif" >50</text>
<text x="189.00" y="664.94" font-size="9.0" fill="#111" text-anchor="end" font-family="Liberation Serif, Times New Roman, serif" >0</text>
<text x="189.00" y="694.64" font-size="9.0" fill="#111" text-anchor="end" font-family="Liberation Serif, Times New Roman, serif" >−50</text>
<text x="0" y="3.38" font-size="9.4" fill="#000" transform="translate(171.00,641.00) rotate(-90)" text-anchor="middle" font-family="Liberation Serif, Times New Roman, serif" >Winter Hypoxia Score</text>
<path d="M217.45,617.80 C217.59,620.33 217.59,629.52 217.80,633.00 C218.01,636.48 218.08,636.50 218.70,638.70 C219.32,640.90 220.25,643.68 221.50,646.20 C222.75,648.72 224.75,651.27 226.20,653.80 C227.65,656.33 229.30,658.87 230.20,661.40 C231.10,663.93 231.50,666.78 231.60,669.00 C231.70,671.22 231.57,672.80 230.80,674.70 C230.03,676.60 228.40,678.50 227.00,680.40 C225.60,682.30 223.65,684.20 222.40,686.10 C221.15,688.00 220.23,689.90 219.50,691.80 C218.77,693.70 218.37,694.97 218.00,697.50 C217.63,700.03 217.45,705.42 217.30,707.00 C217.15,708.58 217.25,708.58 217.10,707.00 C216.95,705.42 216.77,700.03 216.40,697.50 C216.03,694.97 215.63,693.70 214.90,691.80 C214.17,689.90 213.25,688.00 212.00,686.10 C210.75,684.20 208.80,682.30 207.40,680.40 C206.00,678.50 204.37,676.60 203.60,674.70 C202.83,672.80 202.70,671.22 202.80,669.00 C202.90,666.78 203.30,663.93 204.20,661.40 C205.10,658.87 206.75,656.33 208.20,653.80 C209.65,651.27 211.65,648.72 212.90,646.20 C214.15,643.68 215.08,640.90 215.70,638.70 C216.32,636.50 216.39,636.48 216.60,633.00 C216.81,629.52 216.81,620.33 216.95,617.80 C217.09,615.27 217.31,615.27 217.45,617.80 Z" fill="#4d968b" stroke="#000" stroke-width="1.15" stroke-linejoin="round"/>
<line x1="217.20" y1="640.00" x2="217.20" y2="700.00" stroke="#000" stroke-width="1.0" />
<rect x="212.90" y="660.50" width="8.60" height="16.50" fill="#fff" stroke="#000" stroke-width="1.1" />
<line x1="212.90" y1="669.60" x2="221.50" y2="669.60" stroke="#000" stroke-width="2.0" />
<path d="M258.45,632.00 C258.61,634.68 258.61,644.47 258.90,648.10 C259.19,651.73 259.42,651.90 260.20,653.80 C260.98,655.70 262.23,657.60 263.60,659.50 C264.97,661.40 266.85,663.30 268.40,665.20 C269.95,667.10 271.48,668.83 272.90,670.90 C274.32,672.97 276.67,675.70 276.90,677.60 C277.13,679.50 275.88,680.57 274.30,682.30 C272.72,684.03 269.50,686.27 267.40,688.00 C265.30,689.73 263.07,691.28 261.70,692.70 C260.33,694.12 259.77,695.07 259.20,696.50 C258.63,697.93 258.48,700.50 258.30,701.30 C258.12,702.10 258.28,702.10 258.10,701.30 C257.92,700.50 257.77,697.93 257.20,696.50 C256.63,695.07 256.07,694.12 254.70,692.70 C253.33,691.28 251.10,689.73 249.00,688.00 C246.90,686.27 243.68,684.03 242.10,682.30 C240.52,680.57 239.27,679.50 239.50,677.60 C239.73,675.70 242.08,672.97 243.50,670.90 C244.92,668.83 246.45,667.10 248.00,665.20 C249.55,663.30 251.43,661.40 252.80,659.50 C254.17,657.60 255.42,655.70 256.20,653.80 C256.98,651.90 257.21,651.73 257.50,648.10 C257.79,644.47 257.79,634.68 257.95,632.00 C258.11,629.32 258.29,629.32 258.45,632.00 Z" fill="#e8502b" stroke="#000" stroke-width="1.15" stroke-linejoin="round"/>
<line x1="258.20" y1="655.00" x2="258.20" y2="697.00" stroke="#000" stroke-width="1.0" />
<rect x="253.90" y="670.90" width="8.60" height="11.40" fill="#fff" stroke="#000" stroke-width="1.1" />
<line x1="253.90" y1="677.00" x2="262.50" y2="677.00" stroke="#000" stroke-width="2.0" />
<path d="M300.05,600.70 C300.19,604.50 300.23,618.12 300.40,623.50 C300.58,628.88 300.65,630.47 301.10,633.00 C301.55,635.53 302.28,636.82 303.10,638.70 C303.92,640.58 305.05,642.42 306.00,644.30 C306.95,646.18 307.53,648.25 308.80,650.00 C310.07,651.75 312.50,653.05 313.60,654.80 C314.70,656.55 315.40,658.60 315.40,660.50 C315.40,662.40 314.53,664.15 313.60,666.20 C312.67,668.25 311.02,670.75 309.80,672.80 C308.58,674.85 307.42,676.60 306.30,678.50 C305.18,680.40 303.93,682.30 303.10,684.20 C302.27,686.10 301.75,687.68 301.30,689.90 C300.85,692.12 300.63,694.18 300.40,697.50 C300.17,700.82 300.02,707.75 299.90,709.80 C299.78,711.85 299.82,711.85 299.70,709.80 C299.58,707.75 299.43,700.82 299.20,697.50 C298.97,694.18 298.75,692.12 298.30,689.90 C297.85,687.68 297.33,686.10 296.50,684.20 C295.67,682.30 294.42,680.40 293.30,678.50 C292.18,676.60 291.02,674.85 289.80,672.80 C288.58,670.75 286.93,668.25 286.00,666.20 C285.07,664.15 284.20,662.40 284.20,660.50 C284.20,658.60 284.90,656.55 286.00,654.80 C287.10,653.05 289.53,651.75 290.80,650.00 C292.07,648.25 292.65,646.18 293.60,644.30 C294.55,642.42 295.68,640.58 296.50,638.70 C297.32,636.82 298.05,635.53 298.50,633.00 C298.95,630.47 299.02,628.88 299.20,623.50 C299.38,618.12 299.41,604.50 299.55,600.70 C299.69,596.90 299.91,596.90 300.05,600.70 Z" fill="#9b2732" stroke="#000" stroke-width="1.15" stroke-linejoin="round"/>
<line x1="299.80" y1="632.00" x2="299.80" y2="702.00" stroke="#000" stroke-width="1.0" />
<rect x="295.50" y="656.70" width="8.60" height="13.60" fill="#fff" stroke="#000" stroke-width="1.1" />
<line x1="295.50" y1="663.30" x2="304.10" y2="663.30" stroke="#000" stroke-width="2.0" />
<polyline points="216.60,593.80 216.60,591.60 299.90,591.60 299.90,593.80" fill="none" stroke="#1a1a1a" stroke-width="0.85" />
<text x="255.40" y="590.25" font-size="6.8" text-anchor="middle" fill="#111"><tspan font-weight="bold" font-style="italic">P</tspan> = <tspan font-size="5.5">0.00092</tspan></text>
<polyline points="258.30,604.00 258.30,601.80 299.90,601.80 299.90,604.00" fill="none" stroke="#1a1a1a" stroke-width="0.85" />
<text x="279.30" y="600.28" font-size="6.9" text-anchor="middle" fill="#111"><tspan font-weight="bold" font-style="italic">P</tspan> &lt; <tspan font-size="6.9">2.22e−16</tspan></text>
<polyline points="216.60,614.00 216.60,611.80 258.30,611.80 258.30,614.00" fill="none" stroke="#1a1a1a" stroke-width="0.85" />
<text x="231.30" y="610.25" font-size="6.8" text-anchor="middle" fill="#111"><tspan font-weight="bold" font-style="italic">P</tspan> = <tspan font-size="5.9">4e−07</tspan></text>
<text x="217.80" y="728.86" font-size="9.05" fill="#111" text-anchor="middle" >Cluster1</text>
<text x="260.00" y="728.86" font-size="9.05" fill="#111" text-anchor="middle" >Cluster2</text>
<text x="301.40" y="728.86" font-size="9.05" fill="#111" text-anchor="middle" >Cluster3</text>
<line x1="358.50" y1="585.80" x2="358.50" y2="716.30" stroke="#000" stroke-width="1.4" />
<line x1="357.90" y1="715.70" x2="490.70" y2="715.70" stroke="#000" stroke-width="1.4" />
<text x="355.00" y="597.18" font-size="9.4" fill="#111" text-anchor="end" font-family="Liberation Serif, Times New Roman, serif" >40</text>
<text x="355.00" y="627.48" font-size="9.4" fill="#111" text-anchor="end" font-family="Liberation Serif, Times New Roman, serif" >20</text>
<text x="355.00" y="657.88" font-size="9.4" fill="#111" text-anchor="end" font-family="Liberation Serif, Times New Roman, serif" >0</text>
<text x="355.00" y="688.68" font-size="9.4" fill="#111" text-anchor="end" font-family="Liberation Serif, Times New Roman, serif" >−20</text>
<text x="355.00" y="717.38" font-size="9.4" fill="#111" text-anchor="end" font-family="Liberation Serif, Times New Roman, serif" >−40</text>
<text x="0" y="3.35" font-size="9.3" fill="#000" transform="translate(335.80,649.60) rotate(-90)" text-anchor="middle" font-family="Liberation Serif, Times New Roman, serif" >Ragnum Hypoxia Score</text>
<path d="M383.45,593.00 C383.59,595.55 383.59,604.80 383.80,608.30 C384.01,611.80 384.08,611.47 384.70,614.00 C385.32,616.53 386.65,620.33 387.50,623.50 C388.35,626.67 389.13,629.53 389.80,633.00 C390.47,636.47 390.98,640.52 391.50,644.30 C392.02,648.08 392.58,651.90 392.90,655.70 C393.22,659.50 393.47,663.62 393.40,667.10 C393.33,670.58 393.05,673.75 392.50,676.60 C391.95,679.45 390.97,681.67 390.10,684.20 C389.23,686.73 388.12,689.58 387.30,691.80 C386.48,694.02 385.77,695.60 385.20,697.50 C384.63,699.40 384.22,701.15 383.90,703.20 C383.58,705.25 383.43,708.70 383.30,709.80 C383.17,710.90 383.23,710.90 383.10,709.80 C382.97,708.70 382.82,705.25 382.50,703.20 C382.18,701.15 381.77,699.40 381.20,697.50 C380.63,695.60 379.92,694.02 379.10,691.80 C378.28,689.58 377.17,686.73 376.30,684.20 C375.43,681.67 374.45,679.45 373.90,676.60 C373.35,673.75 373.07,670.58 373.00,667.10 C372.93,663.62 373.18,659.50 373.50,655.70 C373.82,651.90 374.38,648.08 374.90,644.30 C375.42,640.52 375.93,636.47 376.60,633.00 C377.27,629.53 378.05,626.67 378.90,623.50 C379.75,620.33 381.08,616.53 381.70,614.00 C382.32,611.47 382.39,611.80 382.60,608.30 C382.81,604.80 382.81,595.55 382.95,593.00 C383.09,590.45 383.31,590.45 383.45,593.00 Z" fill="#4d968b" stroke="#000" stroke-width="1.15" stroke-linejoin="round"/>
<line x1="383.20" y1="612.00" x2="383.20" y2="688.00" stroke="#000" stroke-width="1.0" />
<rect x="378.90" y="644.70" width="8.60" height="31.00" fill="#fff" stroke="#000" stroke-width="1.1" />
<line x1="378.90" y1="662.80" x2="387.50" y2="662.80" stroke="#000" stroke-width="2.0" />
<path d="M424.75,600.70 C424.91,603.23 424.97,612.42 425.20,615.90 C425.43,619.38 425.65,619.38 426.10,621.60 C426.55,623.82 427.07,626.35 427.90,629.20 C428.73,632.05 430.08,635.55 431.10,638.70 C432.12,641.85 433.17,644.63 434.00,648.10 C434.83,651.57 435.63,655.70 436.10,659.50 C436.57,663.30 437.00,667.73 436.80,670.90 C436.60,674.07 435.93,675.97 434.90,678.50 C433.87,681.03 431.77,683.88 430.60,686.10 C429.43,688.32 428.67,690.07 427.90,691.80 C427.13,693.53 426.47,694.92 426.00,696.50 C425.53,698.08 425.33,699.55 425.10,701.30 C424.87,703.05 424.72,706.05 424.60,707.00 C424.48,707.95 424.52,707.95 424.40,707.00 C424.28,706.05 424.13,703.05 423.90,701.30 C423.67,699.55 423.47,698.08 423.00,696.50 C422.53,694.92 421.87,693.53 421.10,691.80 C420.33,690.07 419.57,688.32 418.40,686.10 C417.23,683.88 415.13,681.03 414.10,678.50 C413.07,675.97 412.40,674.07 412.20,670.90 C412.00,667.73 412.43,663.30 412.90,659.50 C413.37,655.70 414.17,651.57 415.00,648.10 C415.83,644.63 416.88,641.85 417.90,638.70 C418.92,635.55 420.27,632.05 421.10,629.20 C421.93,626.35 422.45,623.82 422.90,621.60 C423.35,619.38 423.57,619.38 423.80,615.90 C424.03,612.42 424.09,603.23 424.25,600.70 C424.41,598.17 424.59,598.17 424.75,600.70 Z" fill="#e8502b" stroke="#000" stroke-width="1.15" stroke-linejoin="round"/>
<line x1="424.50" y1="622.00" x2="424.50" y2="692.00" stroke="#000" stroke-width="1.0" />
<rect x="420.20" y="648.10" width="8.60" height="24.30" fill="#fff" stroke="#000" stroke-width="1.1" />
<line x1="420.20" y1="660.50" x2="428.80" y2="660.50" stroke="#000" stroke-width="2.0" />
<path d="M465.95,601.60 C466.12,602.72 466.14,606.23 466.50,608.30 C466.86,610.37 467.20,612.27 468.10,614.00 C469.00,615.73 470.17,617.12 471.90,618.70 C473.63,620.28 476.57,621.92 478.50,623.50 C480.43,625.08 482.48,626.62 483.50,628.20 C484.52,629.78 484.63,631.42 484.60,633.00 C484.57,634.58 484.00,636.13 483.30,637.70 C482.60,639.27 481.52,640.67 480.40,642.40 C479.28,644.13 477.87,646.20 476.60,648.10 C475.33,650.00 473.90,651.90 472.80,653.80 C471.70,655.70 470.78,657.60 470.00,659.50 C469.22,661.40 468.58,663.30 468.10,665.20 C467.62,667.10 467.33,668.68 467.10,670.90 C466.87,673.12 466.85,675.97 466.70,678.50 C466.55,681.03 466.35,683.57 466.20,686.10 C466.05,688.63 465.90,692.43 465.80,693.70 C465.70,694.97 465.70,694.97 465.60,693.70 C465.50,692.43 465.35,688.63 465.20,686.10 C465.05,683.57 464.85,681.03 464.70,678.50 C464.55,675.97 464.53,673.12 464.30,670.90 C464.07,668.68 463.78,667.10 463.30,665.20 C462.82,663.30 462.18,661.40 461.40,659.50 C460.62,657.60 459.70,655.70 458.60,653.80 C457.50,651.90 456.07,650.00 454.80,648.10 C453.53,646.20 452.12,644.13 451.00,642.40 C449.88,640.67 448.80,639.27 448.10,637.70 C447.40,636.13 446.83,634.58 446.80,633.00 C446.77,631.42 446.88,629.78 447.90,628.20 C448.92,626.62 450.97,625.08 452.90,623.50 C454.83,621.92 457.77,620.28 459.50,618.70 C461.23,617.12 462.40,615.73 463.30,614.00 C464.20,612.27 464.54,610.37 464.90,608.30 C465.26,606.23 465.27,602.72 465.45,601.60 C465.62,600.48 465.77,600.48 465.95,601.60 Z" fill="#9b2732" stroke="#000" stroke-width="1.15" stroke-linejoin="round"/>
<line x1="465.70" y1="612.00" x2="465.70" y2="672.00" stroke="#000" stroke-width="1.0" />
<rect x="461.40" y="629.50" width="8.60" height="15.80" fill="#fff" stroke="#000" stroke-width="1.1" />
<line x1="461.40" y1="635.80" x2="470.00" y2="635.80" stroke="#000" stroke-width="2.0" />
<polyline points="382.50,594.40 382.50,592.20 465.70,592.20 465.70,594.40" fill="none" stroke="#1a1a1a" stroke-width="0.85" />
<text x="429.50" y="590.19" font-size="5.8" text-anchor="middle" fill="#111"><tspan font-weight="bold" font-style="italic">P</tspan> = <tspan font-size="5.8">2.2e−12</tspan></text>
<polyline points="424.60,603.50 424.60,601.30 465.70,601.30 465.70,603.50" fill="none" stroke="#1a1a1a" stroke-width="0.85" />
<text x="445.20" y="599.51" font-size="5.85" text-anchor="middle" fill="#111"><tspan font-weight="bold" font-style="italic">P</tspan> &lt; <tspan font-size="5.85">2.22e−16</tspan></text>
<polyline points="382.50,612.20 382.50,610.00 424.60,610.00 424.60,612.20" fill="none" stroke="#1a1a1a" stroke-width="0.85" />
<text x="408.80" y="608.29" font-size="5.8" text-anchor="middle" fill="#111"><tspan font-weight="bold" font-style="italic">P</tspan> = <tspan font-size="5.8">0.87</tspan></text>
<text x="382.70" y="728.16" font-size="9.05" fill="#111" text-anchor="middle" >Cluster1</text>
<text x="425.50" y="728.16" font-size="9.05" fill="#111" text-anchor="middle" >Cluster2</text>
<text x="466.30" y="728.16" font-size="9.05" fill="#111" text-anchor="middle" >Cluster3</text>
</g>
<g id="panelG">
<text x="4.30" y="742.04" font-size="14.0" fill="#000" >G</text>
<line x1="27.90" y1="744.80" x2="27.90" y2="959.40" stroke="#000" stroke-width="1.5" />
<line x1="27.20" y1="958.70" x2="252.60" y2="958.70" stroke="#000" stroke-width="1.5" />
<line x1="25.40" y1="774.00" x2="27.90" y2="774.00" stroke="#000" stroke-width="0.9" />
<text x="24.20" y="777.10" font-size="8.6" fill="#111" text-anchor="end" >40</text>
<line x1="25.40" y1="813.20" x2="27.90" y2="813.20" stroke="#000" stroke-width="0.9" />
<text x="24.20" y="816.30" font-size="8.6" fill="#111" text-anchor="end" >30</text>
<line x1="25.40" y1="852.40" x2="27.90" y2="852.40" stroke="#000" stroke-width="0.9" />
<text x="24.20" y="855.50" font-size="8.6" fill="#111" text-anchor="end" >20</text>
<line x1="25.40" y1="891.30" x2="27.90" y2="891.30" stroke="#000" stroke-width="0.9" />
<text x="24.20" y="894.40" font-size="8.6" fill="#111" text-anchor="end" >10</text>
<line x1="25.40" y1="930.40" x2="27.90" y2="930.40" stroke="#000" stroke-width="0.9" />
<text x="24.20" y="933.50" font-size="8.6" fill="#111" text-anchor="end" >0</text>
<line x1="69.40" y1="958.70" x2="69.40" y2="961.30" stroke="#000" stroke-width="0.9" />
<text x="69.40" y="974.23" font-size="11.2" fill="#111" text-anchor="middle" >Cluster1</text>
<line x1="140.40" y1="958.70" x2="140.40" y2="961.30" stroke="#000" stroke-width="0.9" />
<text x="140.40" y="974.23" font-size="11.2" fill="#111" text-anchor="middle" >Cluster2</text>
<line x1="211.00" y1="958.70" x2="211.00" y2="961.30" stroke="#000" stroke-width="0.9" />
<text x="211.00" y="974.23" font-size="11.2" fill="#111" text-anchor="middle" >Cluster3</text>
<text x="0" y="4.10" font-size="11.4" fill="#000" transform="translate(6.60,837.00) rotate(-90)" text-anchor="middle" >TIL_percentage</text>
<path d="M69.45,865.70 C69.56,866.08 69.78,867.05 70.00,868.00 C70.22,868.95 70.80,870.23 70.80,871.40 C70.80,872.57 70.15,873.57 70.00,875.00 C69.85,876.43 69.87,878.17 69.90,880.00 C69.93,881.83 69.97,884.13 70.20,886.00 C70.43,887.87 71.30,889.53 71.30,891.20 C71.30,892.87 70.28,894.37 70.20,896.00 C70.12,897.63 70.77,899.50 70.80,901.00 C70.83,902.50 70.20,903.33 70.40,905.00 C70.60,906.67 71.42,909.17 72.00,911.00 C72.58,912.83 73.17,914.67 73.90,916.00 C74.63,917.33 75.23,918.00 76.40,919.00 C77.57,920.00 79.07,921.00 80.90,922.00 C82.73,923.00 85.32,924.17 87.40,925.00 C89.48,925.83 91.82,926.43 93.40,927.00 C94.98,927.57 97.23,927.93 96.90,928.40 C96.57,928.87 93.82,929.28 91.40,929.80 C88.98,930.32 84.90,930.97 82.40,931.50 C79.90,932.03 78.07,932.50 76.40,933.00 C74.73,933.50 73.56,934.00 72.40,934.50 C71.24,935.00 69.96,935.75 69.45,936.00 C68.94,936.25 69.86,936.25 69.35,936.00 C68.84,935.75 67.56,935.00 66.40,934.50 C65.24,934.00 64.07,933.50 62.40,933.00 C60.73,932.50 58.90,932.03 56.40,931.50 C53.90,930.97 49.82,930.32 47.40,929.80 C44.98,929.28 42.23,928.87 41.90,928.40 C41.57,927.93 43.82,927.57 45.40,927.00 C46.98,926.43 49.32,925.83 51.40,925.00 C53.48,924.17 56.07,923.00 57.90,922.00 C59.73,921.00 61.23,920.00 62.40,919.00 C63.57,918.00 64.17,917.33 64.90,916.00 C65.63,914.67 66.22,912.83 66.80,911.00 C67.38,909.17 68.20,906.67 68.40,905.00 C68.60,903.33 67.97,902.50 68.00,901.00 C68.03,899.50 68.68,897.63 68.60,896.00 C68.52,894.37 67.50,892.87 67.50,891.20 C67.50,889.53 68.37,887.87 68.60,886.00 C68.83,884.13 68.87,881.83 68.90,880.00 C68.93,878.17 68.95,876.43 68.80,875.00 C68.65,873.57 68.00,872.57 68.00,871.40 C68.00,870.23 68.58,868.95 68.80,868.00 C69.03,867.05 69.24,866.08 69.35,865.70 C69.46,865.32 69.34,865.32 69.45,865.70 Z" fill="#5aa688" stroke="#000" stroke-width="1.15" stroke-linejoin="round"/>
<path d="M140.45,829.70 C140.56,830.58 140.93,832.45 141.00,835.00 C141.07,837.55 140.78,842.08 140.90,845.00 C141.02,847.92 141.70,850.33 141.70,852.50 C141.70,854.67 141.03,855.75 140.90,858.00 C140.77,860.25 140.75,863.45 140.90,866.00 C141.05,868.55 141.80,870.97 141.80,873.30 C141.80,875.63 141.03,877.72 140.90,880.00 C140.77,882.28 140.87,884.63 141.00,887.00 C141.13,889.37 141.65,892.03 141.70,894.20 C141.75,896.37 141.05,897.78 141.30,900.00 C141.55,902.22 143.05,905.67 143.20,907.50 C143.35,909.33 142.25,909.92 142.20,911.00 C142.15,912.08 142.50,912.83 142.90,914.00 C143.30,915.17 143.93,916.83 144.60,918.00 C145.27,919.17 145.85,920.08 146.90,921.00 C147.95,921.92 149.15,922.75 150.90,923.50 C152.65,924.25 154.98,924.92 157.40,925.50 C159.82,926.08 162.90,926.58 165.40,927.00 C167.90,927.42 172.57,927.62 172.40,928.00 C172.23,928.38 167.73,928.83 164.40,929.30 C161.07,929.77 155.57,930.32 152.40,930.80 C149.23,931.28 147.10,931.78 145.40,932.20 C143.70,932.62 143.03,932.97 142.20,933.30 C141.38,933.63 140.76,934.05 140.45,934.20 C140.14,934.35 140.66,934.35 140.35,934.20 C140.04,934.05 139.42,933.63 138.60,933.30 C137.78,932.97 137.10,932.62 135.40,932.20 C133.70,931.78 131.57,931.28 128.40,930.80 C125.23,930.32 119.73,929.77 116.40,929.30 C113.07,928.83 108.57,928.38 108.40,928.00 C108.23,927.62 112.90,927.42 115.40,927.00 C117.90,926.58 120.98,926.08 123.40,925.50 C125.82,924.92 128.15,924.25 129.90,923.50 C131.65,922.75 132.85,921.92 133.90,921.00 C134.95,920.08 135.53,919.17 136.20,918.00 C136.87,916.83 137.50,915.17 137.90,914.00 C138.30,912.83 138.65,912.08 138.60,911.00 C138.55,909.92 137.45,909.33 137.60,907.50 C137.75,905.67 139.25,902.22 139.50,900.00 C139.75,897.78 139.05,896.37 139.10,894.20 C139.15,892.03 139.67,889.37 139.80,887.00 C139.93,884.63 140.03,882.28 139.90,880.00 C139.77,877.72 139.00,875.63 139.00,873.30 C139.00,870.97 139.75,868.55 139.90,866.00 C140.05,863.45 140.03,860.25 139.90,858.00 C139.77,855.75 139.10,854.67 139.10,852.50 C139.10,850.33 139.78,847.92 139.90,845.00 C140.02,842.08 139.73,837.55 139.80,835.00 C139.88,832.45 140.24,830.58 140.35,829.70 C140.46,828.82 140.34,828.82 140.45,829.70 Z" fill="#6fb7ca" stroke="#000" stroke-width="1.15" stroke-linejoin="round"/>
<path d="M211.05,772.80 C211.12,777.33 211.29,790.47 211.40,800.00 C211.51,809.53 211.63,821.67 211.70,830.00 C211.77,838.33 211.73,843.33 211.80,850.00 C211.87,856.67 211.97,864.17 212.10,870.00 C212.23,875.83 212.28,880.33 212.60,885.00 C212.92,889.67 213.43,894.50 214.00,898.00 C214.57,901.50 215.20,903.33 216.00,906.00 C216.80,908.67 217.97,911.50 218.80,914.00 C219.63,916.50 220.50,918.83 221.00,921.00 C221.50,923.17 221.87,925.17 221.80,927.00 C221.73,928.83 221.33,930.38 220.60,932.00 C219.87,933.62 218.50,935.45 217.40,936.70 C216.30,937.95 214.87,938.70 214.00,939.50 C213.13,940.30 212.60,940.58 212.20,941.50 C211.80,942.42 211.79,943.67 211.60,945.00 C211.41,946.33 211.16,948.75 211.05,949.50 C210.94,950.25 211.06,950.25 210.95,949.50 C210.84,948.75 210.59,946.33 210.40,945.00 C210.21,943.67 210.20,942.42 209.80,941.50 C209.40,940.58 208.87,940.30 208.00,939.50 C207.13,938.70 205.70,937.95 204.60,936.70 C203.50,935.45 202.13,933.62 201.40,932.00 C200.67,930.38 200.27,928.83 200.20,927.00 C200.13,925.17 200.50,923.17 201.00,921.00 C201.50,918.83 202.37,916.50 203.20,914.00 C204.03,911.50 205.20,908.67 206.00,906.00 C206.80,903.33 207.43,901.50 208.00,898.00 C208.57,894.50 209.08,889.67 209.40,885.00 C209.72,880.33 209.77,875.83 209.90,870.00 C210.03,864.17 210.13,856.67 210.20,850.00 C210.27,843.33 210.23,838.33 210.30,830.00 C210.37,821.67 210.49,809.53 210.60,800.00 C210.71,790.47 210.88,777.33 210.95,772.80 C211.02,768.27 210.98,768.27 211.05,772.80 Z" fill="#ca564b" stroke="#000" stroke-width="1.15" stroke-linejoin="round"/>
<polyline points="69.70,758.30 69.70,754.70 211.10,754.70 211.10,758.30" fill="none" stroke="#1a1a1a" stroke-width="0.85" />
<text x="147.50" y="752.64" font-size="7.6" text-anchor="middle" fill="#111"><tspan font-weight="bold" font-style="italic">P</tspan> = <tspan font-size="7.6">9e−05</tspan></text>
<polyline points="140.30,774.40 140.30,770.80 211.10,770.80 211.10,774.40" fill="none" stroke="#1a1a1a" stroke-width="0.85" />
<text x="182.60" y="768.74" font-size="7.6" text-anchor="middle" fill="#111"><tspan font-weight="bold" font-style="italic">P</tspan> = <tspan font-size="7.6">3e−05</tspan></text>
<polyline points="69.70,790.50 69.70,786.90 140.30,786.90 140.30,790.50" fill="none" stroke="#1a1a1a" stroke-width="0.85" />
<text x="112.00" y="785.84" font-size="7.6" text-anchor="middle" fill="#111"><tspan font-weight="bold" font-style="italic">P</tspan> = <tspan font-size="7.6">0.54</tspan></text>
</g>
<g id="panelH">
<text x="242.60" y="744.05" font-size="13.2" fill="#000" >H</text>
<rect x="261.00" y="732.90" width="11.30" height="10.80" fill="#c9574c" stroke="none" stroke-width="1" />
<text x="275.60" y="742.32" font-size="9.5" fill="#000" font-weight="bold" >Lymphocytes</text>
<rect x="339.90" y="732.90" width="11.30" height="10.80" fill="#73b6c5" stroke="none" stroke-width="1" />
<text x="352.60" y="742.32" font-size="9.5" fill="#000" font-weight="bold" >median</text>
<rect x="386.90" y="732.90" width="11.30" height="10.80" fill="#5ba58a" stroke="none" stroke-width="1" />
<text x="402.00" y="742.32" font-size="9.5" fill="#000" font-weight="bold" >Absent</text>
<rect x="261.00" y="747.50" width="168.80" height="209.10" fill="#fff" stroke="#333" stroke-width="0.9" />
<rect x="268.30" y="760.00" width="32.30" height="52.60" fill="#5ba58a" stroke="none" stroke-width="1" />
<text x="284.35" y="789.25" font-size="8.2" fill="#1a1a1a" text-anchor="middle" >20.9%</text>
<rect x="300.40" y="760.00" width="43.70" height="52.60" fill="#73b6c5" stroke="none" stroke-width="1" />
<text x="322.15" y="789.25" font-size="8.2" fill="#1a1a1a" text-anchor="middle" >28.6%</text>
<rect x="343.90" y="760.00" width="77.90" height="52.60" fill="#c9574c" stroke="none" stroke-width="1" />
<text x="382.75" y="789.25" font-size="8.2" fill="#1a1a1a" text-anchor="middle" >50.5%</text>
<line x1="258.60" y1="786.30" x2="261.00" y2="786.30" stroke="#333" stroke-width="0.8" />
<text x="0" y="4.14" font-size="11.5" fill="#000" transform="translate(251.90,786.30) rotate(-90)" text-anchor="middle" font-weight="bold" font-style="italic" >Cluster3</text>
<rect x="268.30" y="825.80" width="51.90" height="52.80" fill="#5ba58a" stroke="none" stroke-width="1" />
<text x="294.15" y="855.15" font-size="8.2" fill="#1a1a1a" text-anchor="middle" >33.6%</text>
<rect x="320.00" y="825.80" width="73.20" height="52.80" fill="#73b6c5" stroke="none" stroke-width="1" />
<text x="356.50" y="855.15" font-size="8.2" fill="#1a1a1a" text-anchor="middle" >47.9%</text>
<rect x="393.00" y="825.80" width="28.80" height="52.80" fill="#c9574c" stroke="none" stroke-width="1" />
<text x="407.30" y="855.15" font-size="8.2" fill="#1a1a1a" text-anchor="middle" >18.6%</text>
<line x1="258.60" y1="852.20" x2="261.00" y2="852.20" stroke="#333" stroke-width="0.8" />
<text x="0" y="4.14" font-size="11.5" fill="#000" transform="translate(251.90,852.20) rotate(-90)" text-anchor="middle" font-weight="bold" font-style="italic" >Cluster2</text>
<rect x="268.30" y="891.50" width="65.90" height="52.80" fill="#5ba58a" stroke="none" stroke-width="1" />
<text x="301.15" y="920.85" font-size="8.2" fill="#1a1a1a" text-anchor="middle" >42.6%</text>
<rect x="334.00" y="891.50" width="55.10" height="52.80" fill="#73b6c5" stroke="none" stroke-width="1" />
<text x="361.45" y="920.85" font-size="8.2" fill="#1a1a1a" text-anchor="middle" >36.1%</text>
<rect x="388.90" y="891.50" width="32.90" height="52.80" fill="#c9574c" stroke="none" stroke-width="1" />
<text x="405.25" y="920.85" font-size="8.2" fill="#1a1a1a" text-anchor="middle" >21.3%</text>
<line x1="258.60" y1="917.90" x2="261.00" y2="917.90" stroke="#333" stroke-width="0.8" />
<text x="0" y="4.14" font-size="11.5" fill="#000" transform="translate(251.90,917.90) rotate(-90)" text-anchor="middle" font-weight="bold" font-style="italic" >Cluster1</text>
<line x1="268.30" y1="956.60" x2="268.30" y2="959.00" stroke="#333" stroke-width="0.8" />
<text x="268.30" y="967.74" font-size="7.9" fill="#222" text-anchor="middle" >0</text>
<line x1="306.60" y1="956.60" x2="306.60" y2="959.00" stroke="#333" stroke-width="0.8" />
<text x="306.60" y="967.74" font-size="7.9" fill="#222" text-anchor="middle" >25</text>
<line x1="344.90" y1="956.60" x2="344.90" y2="959.00" stroke="#333" stroke-width="0.8" />
<text x="344.90" y="967.74" font-size="7.9" fill="#222" text-anchor="middle" >50</text>
<line x1="383.30" y1="956.60" x2="383.30" y2="959.00" stroke="#333" stroke-width="0.8" />
<text x="383.30" y="967.74" font-size="7.9" fill="#222" text-anchor="middle" >75</text>
<line x1="421.60" y1="956.60" x2="421.60" y2="959.00" stroke="#333" stroke-width="0.8" />
<text x="421.60" y="967.74" font-size="7.9" fill="#222" text-anchor="middle" >100</text>
<text x="343.80" y="974.71" font-size="9.2" fill="#111" text-anchor="middle" >Ratio</text>
</g>
<defs>
<filter id="texP" x="0" y="0" width="100%" height="100%" color-interpolation-filters="sRGB">
 <feTurbulence type="fractalNoise" baseFrequency="0.05 0.07" numOctaves="5" seed="11"/>
 <feColorMatrix type="matrix" values="0.58 0 0 0 0.235  0.22 0 0 0 0.18  0.26 0 0 0 0.415  0 0 0 0 1"/>
 <feComposite in2="SourceGraphic" operator="in"/>
</filter>
<filter id="texD" x="0" y="0" width="100%" height="100%" color-interpolation-filters="sRGB">
 <feTurbulence type="fractalNoise" baseFrequency="0.11" numOctaves="3" seed="5"/>
 <feColorMatrix type="matrix" values="0.55 0 0 0 0.22  0.42 0 0 0 0.07  0.40 0 0 0 0.32  0 0 0 0 1"/>
 <feComposite in2="SourceGraphic" operator="in"/>
</filter>
<filter id="texM" x="0" y="0" width="100%" height="100%" color-interpolation-filters="sRGB">
 <feTurbulence type="fractalNoise" baseFrequency="0.10" numOctaves="3" seed="8"/>
 <feColorMatrix type="matrix" values="0.30 0 0 0 0.72  0.9 0 0 0 0.08  0.5 0 0 0 0.52  0 0 0 0 1"/>
 <feComposite in2="SourceGraphic" operator="in"/>
</filter>
<filter id="texR" x="0" y="0" width="100%" height="100%" color-interpolation-filters="sRGB">
 <feTurbulence type="fractalNoise" baseFrequency="0.07" numOctaves="3" seed="21"/>
 <feColorMatrix type="matrix" values="0.35 0 0 0 0.60  0.55 0 0 0 0.27  0.45 0 0 0 0.45  0 0 0 0 1"/>
 <feComposite in2="SourceGraphic" operator="in"/>
</filter>
<filter id="b1"><feGaussianBlur stdDeviation="1.3"/></filter>
<filter id="b2"><feGaussianBlur stdDeviation="0.5"/></filter>
<filter id="b3"><feGaussianBlur stdDeviation="2.2"/></filter>
<clipPath id="clipIn"><rect x="538.1" y="632.3" width="140.3" height="86.8"/></clipPath>
<clipPath id="clip2"><rect x="444.3" y="750.6" width="140.3" height="80.0"/></clipPath>
<clipPath id="clip3"><rect x="437.4" y="864.8" width="93.4" height="65.5"/></clipPath>
<clipPath id="clip4"><rect x="553.2" y="864.8" width="128.8" height="65.6"/></clipPath>
</defs>
<g id="histo">
<rect x="538.10" y="632.30" width="140.30" height="86.80" fill="#87498c" stroke="none" stroke-width="1" />
<rect x="538.1" y="632.3" width="140.3" height="86.8" fill="#000" filter="url(#texP)"/>
<g clip-path="url(#clipIn)">
<g filter="url(#b1)" fill="none" stroke="#b85e9f" stroke-opacity="0.42" stroke-linecap="round"><path d="M583,641 C600,648 615,652 640,655" stroke-width="6"/><path d="M540,672 C560,676 585,680 606,688 C612,692 604,700 598,705" stroke-width="5"/><path d="M618,672 C624,680 630,688 640,697" stroke-width="4"/><path d="M556,690 C570,700 580,706 590,706" stroke-width="3.5"/><path d="M642,652 C650,660 648,672 652,684" stroke-width="3"/><path d="M548,640 C555,650 552,660 560,668" stroke-width="3"/></g>
<g filter="url(#b1)" fill="#6d3a7c" fill-opacity="0.22"><ellipse cx="560" cy="655" rx="12" ry="9"/><ellipse cx="610" cy="668" rx="10" ry="8"/><ellipse cx="575" cy="700" rx="13" ry="7"/><ellipse cx="630" cy="705" rx="14" ry="8"/><ellipse cx="665" cy="660" rx="9" ry="14"/><ellipse cx="625" cy="640" rx="12" ry="5"/><ellipse cx="548" cy="710" rx="8" ry="6"/><ellipse cx="660" cy="706" rx="8" ry="6"/></g>
<g filter="url(#b2)" fill="none" stroke="#e6cfe8" stroke-opacity="0.5" stroke-linecap="round"><path d="M651,636 L653,688" stroke-width="0.9"/><path d="M644,690 C655,689 668,691 677,696" stroke-width="1.1"/><path d="M599,660 L601,708" stroke-width="0.6"/><path d="M621,668 L623,700" stroke-width="0.6"/><path d="M570,640 L571,664" stroke-width="0.6"/><path d="M560,680 L561,702" stroke-width="0.5"/><path d="M635,712 C650,715 660,716 670,718" stroke-width="0.8"/><path d="M608,690 C612,700 616,706 614,712" stroke-width="0.6"/></g>
</g>
<rect x="538.10" y="632.30" width="140.30" height="86.80" fill="none" stroke="#111" stroke-width="1.2" />
<rect x="678.70" y="646.00" width="4.30" height="3.30" fill="#ff4be6" stroke="none" stroke-width="1" />
<rect x="678.70" y="649.50" width="4.30" height="12.60" fill="#a8fcff" stroke="none" stroke-width="1" />
<rect x="678.70" y="662.20" width="4.30" height="0.90" fill="#3b3bff" stroke="none" stroke-width="1" />
<rect x="678.70" y="663.20" width="4.30" height="1.40" fill="#ff4be6" stroke="none" stroke-width="1" />
<rect x="678.70" y="665.60" width="4.30" height="2.60" fill="#a8fcff" stroke="none" stroke-width="1" />
<rect x="678.70" y="668.20" width="4.30" height="2.00" fill="#ff4be6" stroke="none" stroke-width="1" />
<text x="653.30" y="713.49" font-size="7.2" fill="#111" font-weight="bold" >50 µm</text>
<line x1="662.20" y1="716.00" x2="673.60" y2="716.00" stroke="#111" stroke-width="1.1" />
<text x="510.20" y="744.38" font-size="6.6" fill="#111" text-anchor="middle" font-weight="bold" font-style="italic" >TCGA-A2-A0YM</text>
<rect x="444.30" y="750.60" width="140.30" height="80.00" fill="#efedf0" stroke="none" stroke-width="1" />
<g clip-path="url(#clip2)">
<path d="M446.0,768 L452.5,752 L470,750 L532,750 L579,750 L582,772 L578.5,790 L573.9,788.5 L543.5,768.5 L516.9,773.3 L492.3,782.8 L466.6,805.5 L461.5,797.6 L463.5,786.6 L452.5,778.5 Z" fill="#f9f2f7"/>
<g fill="none" stroke="#e4a6ca" stroke-width="0.7" stroke-opacity="0.6" filter="url(#b2)"><path d="M453,760 C470,768 480,775 492,782"/><path d="M483,752 C490,764 505,772 515,774"/><path d="M510,752 C515,764 524,770 530,770"/><path d="M532,752 C538,760 541,765 543,769"/><path d="M571,752 C566,766 560,772 556,774"/><path d="M547,771 C558,765 570,769 578,778"/><path d="M447,770 C455,775 462,784 464,790"/><path d="M466,756 C470,772 468,788 466,800"/><path d="M560,752 C568,768 575,778 578,788"/><path d="M458,754 C476,758 492,756 505,762 C515,768 520,772 528,771" stroke-width="1.1"/><path d="M520,760 C535,758 550,762 565,758"/><path d="M470,790 C476,780 486,776 496,778"/><path d="M449,762 C452,770 450,776 455,780"/></g>
<path d="M466.6,805.5 L473.3,798 L482.8,790.4 L492.3,782.8 L503.7,777.1 L516.9,773.3 L530.2,769.5 L543.5,768.5 L554.9,773.3 L566.3,780.9 L573.9,788.5 L572,795.1 L563.4,800.8 L554.9,806.5 L543.5,812.2 L534,816 L524.5,818.8 L513.1,822.6 L503.7,825.5 L494.2,828.3 L488.5,825.5 L484.7,818.8 L478,814.1 L471.4,811.2 Z" fill="#b77bb0" stroke="#cf95c2" stroke-width="1.8" stroke-linejoin="round" filter="url(#b2)"/>
<path d="M466.6,805.5 L473.3,798 L482.8,790.4 L492.3,782.8 L503.7,777.1 L516.9,773.3 L530.2,769.5 L543.5,768.5 L554.9,773.3 L566.3,780.9 L573.9,788.5 L572,795.1 L563.4,800.8 L554.9,806.5 L543.5,812.2 L534,816 L524.5,818.8 L513.1,822.6 L503.7,825.5 L494.2,828.3 L488.5,825.5 L484.7,818.8 L478,814.1 L471.4,811.2 Z" fill="#000" filter="url(#texD)"/>
<path d="M480,792 L492.5,782.5 L504,776.8 L517,773 L530,769.2 L543,768.2" fill="none" stroke="#db90bf" stroke-width="2.0" stroke-opacity="0.9" filter="url(#b2)"/>
<path d="M556,775 L566,782 L573,789 L571,795" fill="none" stroke="#cfa6cf" stroke-width="2.4" stroke-opacity="0.8" filter="url(#b2)"/>
<g stroke="#e9d8ea" stroke-width="0.6" stroke-opacity="0.6" fill="none"><path d="M489.5,800 L491,812"/><path d="M499,797 L500.5,806"/><path d="M494,808 L495,818"/><path d="M505,812 L506,820"/></g>
<ellipse cx="548.3" cy="800.8" rx="1.0" ry="1.5" fill="#f8f4f8"/>
</g>
<line x1="538.30" y1="719.00" x2="542.70" y2="788.50" stroke="#111" stroke-width="0.95" />
<line x1="678.30" y1="719.00" x2="549.70" y2="788.50" stroke="#111" stroke-width="0.95" />
<rect x="542.60" y="788.50" width="7.00" height="4.60" fill="none" stroke="#111" stroke-width="0.9" />
<text x="558.00" y="823.32" font-size="7.0" fill="#111" font-weight="bold" >200 µm</text>
<line x1="571.60" y1="826.50" x2="582.50" y2="826.50" stroke="#111" stroke-width="1.3" />
<text x="598.10" y="798.11" font-size="6.7" fill="#111" font-weight="bold" font-style="italic" >Cluster3-Lymphocytes</text>
<text x="486.40" y="860.78" font-size="6.6" fill="#111" text-anchor="middle" font-weight="bold" font-style="italic" >TCGA-A2-A0CO</text>
<rect x="437.40" y="864.80" width="93.40" height="65.50" fill="#ecebed" stroke="none" stroke-width="1" />
<g clip-path="url(#clip3)">
<path d="M440.8,865.1 L512.3,865.1 L518.7,872.8 L525.1,880.9 L528.4,890.5 L523.5,900.1 L518.7,908.2 L515.5,914.6 L509.1,919.4 L502.7,924.2 L497.8,929.9 L491.4,928.3 L483.4,924.2 L475.4,919.4 L465.7,913 L456.1,906.6 L448.1,900.1 L440,892.1 L439.2,884.1 L444,876.1 Z" fill="#e3a0d2"/>
<path d="M440.8,865.1 L512.3,865.1 L518.7,872.8 L525.1,880.9 L528.4,890.5 L523.5,900.1 L518.7,908.2 L515.5,914.6 L509.1,919.4 L502.7,924.2 L497.8,929.9 L491.4,928.3 L483.4,924.2 L475.4,919.4 L465.7,913 L456.1,906.6 L448.1,900.1 L440,892.1 L439.2,884.1 L444,876.1 Z" fill="#000" filter="url(#texM)"/>
<g filter="url(#b1)"><path d="M446,868 L478,867 L482,880 L476,895 L470,906 L458,902 L447,892 L443,882 Z" fill="#f6e8f3" fill-opacity="0.9"/><path d="M486,868 L511,868 L522,882 L525,892 L518,906 L508,916 L498,918 L496,905 L502,893 L496,880 Z" fill="#d86cbc" fill-opacity="0.75"/><path d="M475,884 L492,880 L500,892 L494,903 L482,900 Z" fill="#b47cc2" fill-opacity="0.6"/><path d="M462,908 L478,902 L490,912 L492,924 L480,920 Z" fill="#e18fcd" fill-opacity="0.6"/><path d="M470,895 L480,898 L484,908 L474,906 Z" fill="#f7ecf5" fill-opacity="0.7"/></g>
<g fill="none" stroke="#df98cd" stroke-width="0.8" stroke-opacity="0.8" filter="url(#b2)"><path d="M447,872 C455,878 458,888 452,894"/><path d="M455,867 C462,874 470,876 478,872"/><path d="M450,890 C458,892 462,898 466,902"/></g>
</g>
<text x="504.60" y="925.12" font-size="7.0" fill="#111" font-weight="bold" >200 µm</text>
<line x1="517.90" y1="927.20" x2="528.50" y2="927.20" stroke="#111" stroke-width="1.3" />
<text x="486.10" y="940.81" font-size="6.7" fill="#111" text-anchor="middle" font-weight="bold" font-style="italic" >Cluster1-Absent</text>
<text x="619.30" y="860.78" font-size="6.6" fill="#111" text-anchor="middle" font-weight="bold" font-style="italic" >TCGA-E9-A295</text>
<rect x="553.20" y="864.80" width="128.80" height="65.60" fill="#ecebed" stroke="none" stroke-width="1" />
<g clip-path="url(#clip4)">
<path d="M640,929 L649,913 L661,899 L677,887 L682,880 L682,912 L668,920 L655,929 Z" fill="#f3e3ec"/>
<path d="M560.3,867.2 L571.6,865.7 L606.3,866.1 L637,865.7 L659.5,866.1 L680.9,867.2 L681.9,878.4 L677.8,886.6 L669.7,892.7 L661.5,898.8 L655.4,907 L649.2,913.1 L645.1,921.3 L639,928.5 L630.8,929.5 L622.7,923.4 L606.3,924.4 L594,923.4 L591,915.2 L581.8,913.5 L565.4,912.1 L555.2,908 L556.2,894.7 L559.3,880.4 Z" fill="#c88cb0"/>
<path d="M560.3,867.2 L571.6,865.7 L606.3,866.1 L637,865.7 L659.5,866.1 L680.9,867.2 L681.9,878.4 L677.8,886.6 L669.7,892.7 L661.5,898.8 L655.4,907 L649.2,913.1 L645.1,921.3 L639,928.5 L630.8,929.5 L622.7,923.4 L606.3,924.4 L594,923.4 L591,915.2 L581.8,913.5 L565.4,912.1 L555.2,908 L556.2,894.7 L559.3,880.4 Z" fill="#000" filter="url(#texR)"/>
<g filter="url(#b3)"><path d="M598,874 L642,872 L652,888 L640,904 L612,908 L598,896 Z" fill="#e5869f" fill-opacity="0.55"/><path d="M558,870 L584,870 L590,900 L562,908 Z" fill="#b48bbd" fill-opacity="0.5"/><path d="M600,905 L640,905 L636,926 L600,922 Z" fill="#bb88b8" fill-opacity="0.45"/><path d="M650,870 L680,870 L678,884 L660,896 L650,890 Z" fill="#c795bd" fill-opacity="0.45"/></g>
<g fill="#f8f0f5" fill-opacity="0.85" filter="url(#b2)"><ellipse cx="645" cy="873" rx="2" ry="1.3"/><ellipse cx="630" cy="882" rx="1.2" ry="2.2"/><ellipse cx="575" cy="893" rx="3" ry="3.5" fill-opacity="0.35"/></g>
</g>
<circle cx="680.7" cy="868.3" r="1.9" fill="#b01825"/><circle cx="648.3" cy="911.8" r="1.0" fill="#b01825"/><circle cx="571" cy="867.3" r="0.8" fill="#b01825"/><circle cx="664" cy="867.6" r="0.7" fill="#b01825"/>
<rect x="682.00" y="875.30" width="3.00" height="15.40" fill="#fbeefa" stroke="none" stroke-width="1" />
<rect x="682.00" y="879.00" width="3.00" height="1.00" fill="#ff4be6" stroke="none" stroke-width="1" />
<rect x="682.00" y="886.20" width="3.00" height="1.20" fill="#ff4be6" stroke="none" stroke-width="1" />
<rect x="682.00" y="881.00" width="3.00" height="3.00" fill="#d8fbff" stroke="none" stroke-width="1" />
<text x="658.00" y="925.32" font-size="7.0" fill="#111" font-weight="bold" >200 µm</text>
<line x1="669.70" y1="927.90" x2="680.90" y2="927.90" stroke="#111" stroke-width="1.3" />
<text x="618.80" y="940.81" font-size="6.7" fill="#111" text-anchor="middle" font-weight="bold" font-style="italic" >Cluster2-median</text>
</g>
</svg>
</body></html>
